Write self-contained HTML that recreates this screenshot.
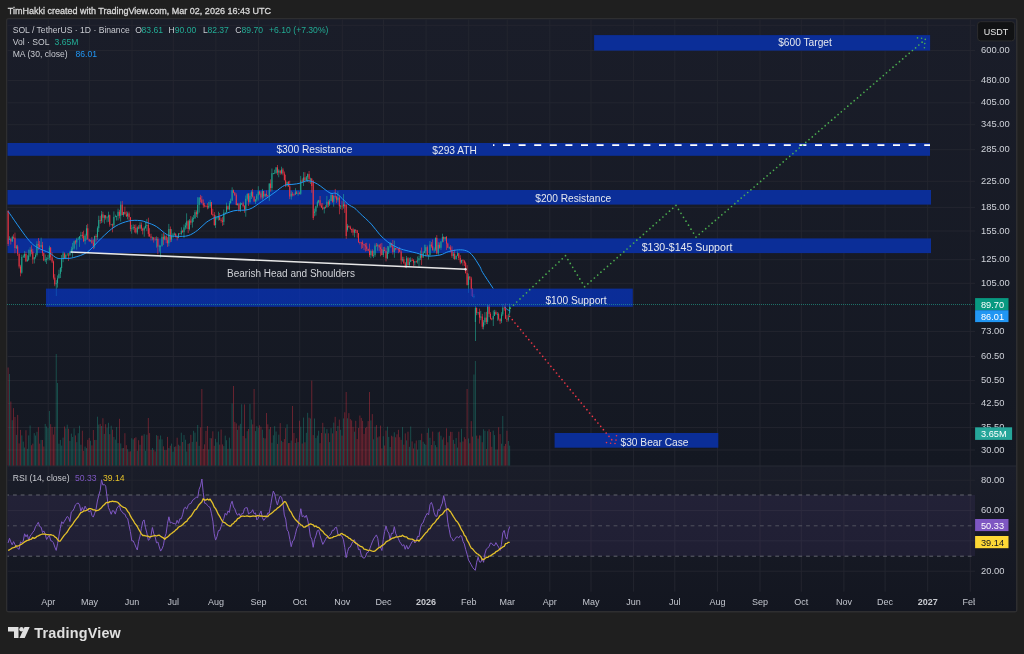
<!DOCTYPE html>
<html><head><meta charset="utf-8"><style>
html,body{margin:0;padding:0;width:1024px;height:654px;overflow:hidden;background:#1f1f1f;}
svg{position:absolute;left:0;top:0;display:block}
text{font-family:"Liberation Sans",sans-serif;}
svg{-webkit-font-smoothing:antialiased;will-change:transform;}
</style></head><body>
<svg width="1024" height="654" viewBox="0 0 1024 654">
<rect x="0" y="0" width="1024" height="654" fill="#1f1f1f"/>
<text x="7.8" y="13.8" font-size="9" fill="#d8d8d8" stroke="#d8d8d8" stroke-width="0.3">TimHakki created with TradingView.com, Mar 02, 2026 16:43 UTC</text>
<defs><linearGradient id="g1" x1="0" y1="0" x2="0" y2="1"><stop offset="0" stop-color="#1a1d29"/><stop offset="1" stop-color="#141822"/></linearGradient>
<linearGradient id="g2" x1="0" y1="0" x2="0" y2="1"><stop offset="0" stop-color="#1a1d29"/><stop offset="1" stop-color="#131620"/></linearGradient></defs>
<rect x="6.75" y="18.75" width="1010" height="593" rx="2" fill="#171b26" stroke="#2e2e30" stroke-width="1.5"/>
<rect x="7.5" y="19.5" width="1008.5" height="446.5" fill="url(#g1)"/>
<rect x="7.5" y="466" width="1008.5" height="145" fill="url(#g2)"/>
<g stroke="#23252f" stroke-width="1"><line x1="48.2" y1="19.5" x2="48.2" y2="591.7" /><line x1="89.4" y1="19.5" x2="89.4" y2="591.7" /><line x1="132.0" y1="19.5" x2="132.0" y2="591.7" /><line x1="173.3" y1="19.5" x2="173.3" y2="591.7" /><line x1="215.9" y1="19.5" x2="215.9" y2="591.7" /><line x1="258.5" y1="19.5" x2="258.5" y2="591.7" /><line x1="299.7" y1="19.5" x2="299.7" y2="591.7" /><line x1="342.3" y1="19.5" x2="342.3" y2="591.7" /><line x1="383.5" y1="19.5" x2="383.5" y2="591.7" /><line x1="426.1" y1="19.5" x2="426.1" y2="591.7" /><line x1="468.7" y1="19.5" x2="468.7" y2="591.7" /><line x1="507.2" y1="19.5" x2="507.2" y2="591.7" /><line x1="549.8" y1="19.5" x2="549.8" y2="591.7" /><line x1="591.0" y1="19.5" x2="591.0" y2="591.7" /><line x1="633.6" y1="19.5" x2="633.6" y2="591.7" /><line x1="674.8" y1="19.5" x2="674.8" y2="591.7" /><line x1="717.4" y1="19.5" x2="717.4" y2="591.7" /><line x1="760.0" y1="19.5" x2="760.0" y2="591.7" /><line x1="801.3" y1="19.5" x2="801.3" y2="591.7" /><line x1="843.9" y1="19.5" x2="843.9" y2="591.7" /><line x1="885.1" y1="19.5" x2="885.1" y2="591.7" /><line x1="927.7" y1="19.5" x2="927.7" y2="591.7" /><line x1="970.3" y1="19.5" x2="970.3" y2="591.7" /><line x1="7.5" y1="25.3" x2="975" y2="25.3" /><line x1="7.5" y1="50.5" x2="975" y2="50.5" /><line x1="7.5" y1="80.5" x2="975" y2="80.5" /><line x1="7.5" y1="102.8" x2="975" y2="102.8" /><line x1="7.5" y1="124.7" x2="975" y2="124.7" /><line x1="7.5" y1="149.7" x2="975" y2="149.7" /><line x1="7.5" y1="181.3" x2="975" y2="181.3" /><line x1="7.5" y1="207.4" x2="975" y2="207.4" /><line x1="7.5" y1="231.0" x2="975" y2="231.0" /><line x1="7.5" y1="259.7" x2="975" y2="259.7" /><line x1="7.5" y1="283.3" x2="975" y2="283.3" /><line x1="7.5" y1="331.4" x2="975" y2="331.4" /><line x1="7.5" y1="356.5" x2="975" y2="356.5" /><line x1="7.5" y1="380.6" x2="975" y2="380.6" /><line x1="7.5" y1="403.6" x2="975" y2="403.6" /><line x1="7.5" y1="427.6" x2="975" y2="427.6" /><line x1="7.5" y1="450" x2="975" y2="450" /><line x1="7.5" y1="480.2" x2="975" y2="480.2" /><line x1="7.5" y1="510.5" x2="975" y2="510.5" /><line x1="7.5" y1="540.8" x2="975" y2="540.8" /><line x1="7.5" y1="571.2" x2="975" y2="571.2" /></g>
<line x1="7.5" y1="466" x2="1016" y2="466" stroke="#262a35"/>
<!-- RSI band -->
<rect x="7.5" y="495" width="967.5" height="61" fill="rgba(126,87,194,0.10)"/>
<g stroke-width="1" stroke-dasharray="3.8 3.9" stroke-dashoffset="2.2">
<line x1="7.5" y1="495" x2="975" y2="495" stroke="#62646e"/><line x1="7.5" y1="525.8" x2="975" y2="525.8" stroke="#51525e"/><line x1="7.5" y1="556.2" x2="975" y2="556.2" stroke="#62646e"/>
</g>
<!-- rectangles under candles -->
<rect x="7.5" y="143" width="922.5" height="12.8" fill="#0b2e98"/>
<rect x="7.5" y="190" width="923.5" height="14.6" fill="#0b2e98"/>
<rect x="7.5" y="238.4" width="923.5" height="14.7" fill="#0b2e98"/>
<rect x="594.1" y="35.1" width="336" height="15.5" fill="#0b2e98"/>
<rect x="554.6" y="433" width="163.7" height="14.7" fill="#0b2e98"/>
<!-- volume -->
<g><rect x="7.68" y="367.5" width="0.84" height="98.0" fill="rgba(242,54,69,0.45)"/><rect x="9.05" y="374.0" width="0.84" height="91.5" fill="rgba(34,171,148,0.42)"/><rect x="10.43" y="401.5" width="0.84" height="64.0" fill="rgba(242,54,69,0.45)"/><rect x="11.80" y="420.2" width="0.84" height="45.3" fill="rgba(34,171,148,0.42)"/><rect x="13.18" y="408.1" width="0.84" height="57.4" fill="rgba(242,54,69,0.45)"/><rect x="14.55" y="417.0" width="0.84" height="48.5" fill="rgba(242,54,69,0.45)"/><rect x="15.93" y="434.9" width="0.84" height="30.6" fill="rgba(34,171,148,0.42)"/><rect x="17.30" y="414.9" width="0.84" height="50.6" fill="rgba(242,54,69,0.45)"/><rect x="18.67" y="443.4" width="0.84" height="22.1" fill="rgba(242,54,69,0.45)"/><rect x="20.05" y="429.9" width="0.84" height="35.6" fill="rgba(242,54,69,0.45)"/><rect x="21.42" y="435.4" width="0.84" height="30.1" fill="rgba(34,171,148,0.42)"/><rect x="22.80" y="441.6" width="0.84" height="23.9" fill="rgba(34,171,148,0.42)"/><rect x="24.17" y="447.5" width="0.84" height="18.0" fill="rgba(34,171,148,0.42)"/><rect x="25.54" y="430.2" width="0.84" height="35.3" fill="rgba(242,54,69,0.45)"/><rect x="26.92" y="448.8" width="0.84" height="16.7" fill="rgba(34,171,148,0.42)"/><rect x="28.29" y="435.4" width="0.84" height="30.1" fill="rgba(34,171,148,0.42)"/><rect x="29.67" y="425.5" width="0.84" height="40.0" fill="rgba(34,171,148,0.42)"/><rect x="31.04" y="445.2" width="0.84" height="20.3" fill="rgba(242,54,69,0.45)"/><rect x="32.42" y="443.6" width="0.84" height="21.9" fill="rgba(242,54,69,0.45)"/><rect x="33.79" y="433.1" width="0.84" height="32.4" fill="rgba(34,171,148,0.42)"/><rect x="35.16" y="435.5" width="0.84" height="30.0" fill="rgba(34,171,148,0.42)"/><rect x="36.54" y="431.8" width="0.84" height="33.7" fill="rgba(34,171,148,0.42)"/><rect x="37.91" y="427.2" width="0.84" height="38.3" fill="rgba(242,54,69,0.45)"/><rect x="39.29" y="443.6" width="0.84" height="21.9" fill="rgba(242,54,69,0.45)"/><rect x="40.66" y="439.9" width="0.84" height="25.6" fill="rgba(34,171,148,0.42)"/><rect x="42.04" y="440.0" width="0.84" height="25.5" fill="rgba(242,54,69,0.45)"/><rect x="43.41" y="446.5" width="0.84" height="19.0" fill="rgba(242,54,69,0.45)"/><rect x="44.78" y="423.9" width="0.84" height="41.6" fill="rgba(34,171,148,0.42)"/><rect x="46.16" y="426.5" width="0.84" height="39.0" fill="rgba(34,171,148,0.42)"/><rect x="47.53" y="428.1" width="0.84" height="37.4" fill="rgba(34,171,148,0.42)"/><rect x="48.91" y="411.0" width="0.84" height="54.5" fill="rgba(34,171,148,0.42)"/><rect x="50.28" y="424.2" width="0.84" height="41.3" fill="rgba(242,54,69,0.45)"/><rect x="51.65" y="427.0" width="0.84" height="38.5" fill="rgba(242,54,69,0.45)"/><rect x="53.03" y="434.6" width="0.84" height="30.9" fill="rgba(242,54,69,0.45)"/><rect x="54.40" y="426.8" width="0.84" height="38.7" fill="rgba(242,54,69,0.45)"/><rect x="55.78" y="354.0" width="0.84" height="111.5" fill="rgba(34,171,148,0.42)"/><rect x="57.15" y="383.0" width="0.84" height="82.5" fill="rgba(34,171,148,0.42)"/><rect x="58.53" y="443.7" width="0.84" height="21.8" fill="rgba(34,171,148,0.42)"/><rect x="59.90" y="439.9" width="0.84" height="25.6" fill="rgba(34,171,148,0.42)"/><rect x="61.27" y="445.6" width="0.84" height="19.9" fill="rgba(34,171,148,0.42)"/><rect x="62.65" y="437.6" width="0.84" height="27.9" fill="rgba(34,171,148,0.42)"/><rect x="64.02" y="426.5" width="0.84" height="39.0" fill="rgba(242,54,69,0.45)"/><rect x="65.40" y="428.4" width="0.84" height="37.1" fill="rgba(34,171,148,0.42)"/><rect x="66.77" y="424.7" width="0.84" height="40.8" fill="rgba(34,171,148,0.42)"/><rect x="68.14" y="428.7" width="0.84" height="36.8" fill="rgba(242,54,69,0.45)"/><rect x="69.52" y="440.9" width="0.84" height="24.6" fill="rgba(34,171,148,0.42)"/><rect x="70.89" y="433.6" width="0.84" height="31.9" fill="rgba(34,171,148,0.42)"/><rect x="72.27" y="437.0" width="0.84" height="28.5" fill="rgba(34,171,148,0.42)"/><rect x="73.64" y="428.3" width="0.84" height="37.2" fill="rgba(34,171,148,0.42)"/><rect x="75.02" y="435.4" width="0.84" height="30.1" fill="rgba(242,54,69,0.45)"/><rect x="76.39" y="442.2" width="0.84" height="23.3" fill="rgba(34,171,148,0.42)"/><rect x="77.76" y="433.2" width="0.84" height="32.3" fill="rgba(34,171,148,0.42)"/><rect x="79.14" y="425.7" width="0.84" height="39.8" fill="rgba(34,171,148,0.42)"/><rect x="80.51" y="444.7" width="0.84" height="20.8" fill="rgba(34,171,148,0.42)"/><rect x="81.89" y="430.7" width="0.84" height="34.8" fill="rgba(242,54,69,0.45)"/><rect x="83.26" y="450.9" width="0.84" height="14.6" fill="rgba(242,54,69,0.45)"/><rect x="84.64" y="446.6" width="0.84" height="18.9" fill="rgba(34,171,148,0.42)"/><rect x="86.01" y="448.1" width="0.84" height="17.4" fill="rgba(34,171,148,0.42)"/><rect x="87.38" y="439.8" width="0.84" height="25.7" fill="rgba(242,54,69,0.45)"/><rect x="88.76" y="437.9" width="0.84" height="27.6" fill="rgba(242,54,69,0.45)"/><rect x="90.13" y="440.7" width="0.84" height="24.8" fill="rgba(34,171,148,0.42)"/><rect x="91.51" y="445.4" width="0.84" height="20.1" fill="rgba(242,54,69,0.45)"/><rect x="92.88" y="430.0" width="0.84" height="35.5" fill="rgba(242,54,69,0.45)"/><rect x="94.25" y="440.0" width="0.84" height="25.5" fill="rgba(34,171,148,0.42)"/><rect x="95.63" y="439.9" width="0.84" height="25.6" fill="rgba(242,54,69,0.45)"/><rect x="97.00" y="416.7" width="0.84" height="48.8" fill="rgba(34,171,148,0.42)"/><rect x="98.38" y="424.6" width="0.84" height="40.9" fill="rgba(34,171,148,0.42)"/><rect x="99.75" y="423.9" width="0.84" height="41.6" fill="rgba(242,54,69,0.45)"/><rect x="101.13" y="426.0" width="0.84" height="39.5" fill="rgba(34,171,148,0.42)"/><rect x="102.50" y="418.2" width="0.84" height="47.3" fill="rgba(242,54,69,0.45)"/><rect x="103.87" y="433.9" width="0.84" height="31.6" fill="rgba(34,171,148,0.42)"/><rect x="105.25" y="424.2" width="0.84" height="41.3" fill="rgba(242,54,69,0.45)"/><rect x="106.62" y="427.7" width="0.84" height="37.8" fill="rgba(34,171,148,0.42)"/><rect x="108.00" y="422.8" width="0.84" height="42.7" fill="rgba(34,171,148,0.42)"/><rect x="109.37" y="434.2" width="0.84" height="31.3" fill="rgba(242,54,69,0.45)"/><rect x="110.75" y="425.7" width="0.84" height="39.8" fill="rgba(34,171,148,0.42)"/><rect x="112.12" y="429.7" width="0.84" height="35.8" fill="rgba(242,54,69,0.45)"/><rect x="113.49" y="437.0" width="0.84" height="28.5" fill="rgba(34,171,148,0.42)"/><rect x="114.87" y="439.6" width="0.84" height="25.9" fill="rgba(34,171,148,0.42)"/><rect x="116.24" y="427.1" width="0.84" height="38.4" fill="rgba(34,171,148,0.42)"/><rect x="117.62" y="443.1" width="0.84" height="22.4" fill="rgba(34,171,148,0.42)"/><rect x="118.99" y="418.8" width="0.84" height="46.7" fill="rgba(242,54,69,0.45)"/><rect x="120.36" y="443.4" width="0.84" height="22.1" fill="rgba(34,171,148,0.42)"/><rect x="121.74" y="448.2" width="0.84" height="17.3" fill="rgba(242,54,69,0.45)"/><rect x="123.11" y="448.0" width="0.84" height="17.5" fill="rgba(34,171,148,0.42)"/><rect x="124.49" y="433.2" width="0.84" height="32.3" fill="rgba(242,54,69,0.45)"/><rect x="125.86" y="445.2" width="0.84" height="20.3" fill="rgba(242,54,69,0.45)"/><rect x="127.24" y="449.2" width="0.84" height="16.3" fill="rgba(34,171,148,0.42)"/><rect x="128.61" y="451.5" width="0.84" height="14.0" fill="rgba(242,54,69,0.45)"/><rect x="129.98" y="451.3" width="0.84" height="14.2" fill="rgba(242,54,69,0.45)"/><rect x="131.36" y="438.2" width="0.84" height="27.3" fill="rgba(34,171,148,0.42)"/><rect x="132.73" y="439.4" width="0.84" height="26.1" fill="rgba(34,171,148,0.42)"/><rect x="134.11" y="438.1" width="0.84" height="27.4" fill="rgba(242,54,69,0.45)"/><rect x="135.48" y="437.3" width="0.84" height="28.2" fill="rgba(242,54,69,0.45)"/><rect x="136.85" y="450.8" width="0.84" height="14.7" fill="rgba(34,171,148,0.42)"/><rect x="138.23" y="440.2" width="0.84" height="25.3" fill="rgba(242,54,69,0.45)"/><rect x="139.60" y="444.8" width="0.84" height="20.7" fill="rgba(34,171,148,0.42)"/><rect x="140.98" y="435.7" width="0.84" height="29.8" fill="rgba(242,54,69,0.45)"/><rect x="142.35" y="435.6" width="0.84" height="29.9" fill="rgba(242,54,69,0.45)"/><rect x="143.73" y="434.2" width="0.84" height="31.3" fill="rgba(34,171,148,0.42)"/><rect x="145.10" y="450.8" width="0.84" height="14.7" fill="rgba(34,171,148,0.42)"/><rect x="146.47" y="434.7" width="0.84" height="30.8" fill="rgba(34,171,148,0.42)"/><rect x="147.85" y="418.0" width="0.84" height="47.5" fill="rgba(242,54,69,0.45)"/><rect x="149.22" y="433.1" width="0.84" height="32.4" fill="rgba(242,54,69,0.45)"/><rect x="150.60" y="449.9" width="0.84" height="15.6" fill="rgba(242,54,69,0.45)"/><rect x="151.97" y="448.0" width="0.84" height="17.5" fill="rgba(34,171,148,0.42)"/><rect x="153.35" y="449.8" width="0.84" height="15.7" fill="rgba(242,54,69,0.45)"/><rect x="154.72" y="451.4" width="0.84" height="14.1" fill="rgba(242,54,69,0.45)"/><rect x="156.09" y="435.1" width="0.84" height="30.4" fill="rgba(34,171,148,0.42)"/><rect x="157.47" y="435.8" width="0.84" height="29.7" fill="rgba(242,54,69,0.45)"/><rect x="158.84" y="439.4" width="0.84" height="26.1" fill="rgba(34,171,148,0.42)"/><rect x="160.22" y="435.5" width="0.84" height="30.0" fill="rgba(34,171,148,0.42)"/><rect x="161.59" y="439.4" width="0.84" height="26.1" fill="rgba(34,171,148,0.42)"/><rect x="162.96" y="446.3" width="0.84" height="19.2" fill="rgba(242,54,69,0.45)"/><rect x="164.34" y="450.1" width="0.84" height="15.4" fill="rgba(34,171,148,0.42)"/><rect x="165.71" y="450.1" width="0.84" height="15.4" fill="rgba(242,54,69,0.45)"/><rect x="167.09" y="436.9" width="0.84" height="28.6" fill="rgba(242,54,69,0.45)"/><rect x="168.46" y="448.0" width="0.84" height="17.5" fill="rgba(34,171,148,0.42)"/><rect x="169.84" y="445.7" width="0.84" height="19.8" fill="rgba(242,54,69,0.45)"/><rect x="171.21" y="443.6" width="0.84" height="21.9" fill="rgba(34,171,148,0.42)"/><rect x="172.58" y="451.7" width="0.84" height="13.8" fill="rgba(34,171,148,0.42)"/><rect x="173.96" y="446.9" width="0.84" height="18.6" fill="rgba(34,171,148,0.42)"/><rect x="175.33" y="446.4" width="0.84" height="19.1" fill="rgba(242,54,69,0.45)"/><rect x="176.71" y="437.7" width="0.84" height="27.8" fill="rgba(242,54,69,0.45)"/><rect x="178.08" y="444.7" width="0.84" height="20.8" fill="rgba(34,171,148,0.42)"/><rect x="179.46" y="445.7" width="0.84" height="19.8" fill="rgba(242,54,69,0.45)"/><rect x="180.83" y="432.7" width="0.84" height="32.8" fill="rgba(34,171,148,0.42)"/><rect x="182.20" y="442.0" width="0.84" height="23.5" fill="rgba(242,54,69,0.45)"/><rect x="183.58" y="435.0" width="0.84" height="30.5" fill="rgba(34,171,148,0.42)"/><rect x="184.95" y="439.7" width="0.84" height="25.8" fill="rgba(34,171,148,0.42)"/><rect x="186.33" y="451.5" width="0.84" height="14.0" fill="rgba(34,171,148,0.42)"/><rect x="187.70" y="443.8" width="0.84" height="21.7" fill="rgba(242,54,69,0.45)"/><rect x="189.07" y="443.3" width="0.84" height="22.2" fill="rgba(34,171,148,0.42)"/><rect x="190.45" y="434.8" width="0.84" height="30.7" fill="rgba(242,54,69,0.45)"/><rect x="191.82" y="441.9" width="0.84" height="23.6" fill="rgba(34,171,148,0.42)"/><rect x="193.20" y="430.8" width="0.84" height="34.7" fill="rgba(34,171,148,0.42)"/><rect x="194.57" y="432.6" width="0.84" height="32.9" fill="rgba(34,171,148,0.42)"/><rect x="195.95" y="441.7" width="0.84" height="23.8" fill="rgba(242,54,69,0.45)"/><rect x="197.32" y="425.0" width="0.84" height="40.5" fill="rgba(34,171,148,0.42)"/><rect x="198.69" y="445.8" width="0.84" height="19.7" fill="rgba(34,171,148,0.42)"/><rect x="200.07" y="427.4" width="0.84" height="38.1" fill="rgba(242,54,69,0.45)"/><rect x="201.44" y="389.0" width="0.84" height="76.5" fill="rgba(242,54,69,0.45)"/><rect x="202.82" y="448.9" width="0.84" height="16.6" fill="rgba(242,54,69,0.45)"/><rect x="204.19" y="444.3" width="0.84" height="21.2" fill="rgba(242,54,69,0.45)"/><rect x="205.56" y="430.9" width="0.84" height="34.6" fill="rgba(242,54,69,0.45)"/><rect x="206.94" y="426.0" width="0.84" height="39.5" fill="rgba(242,54,69,0.45)"/><rect x="208.31" y="449.5" width="0.84" height="16.0" fill="rgba(34,171,148,0.42)"/><rect x="209.69" y="438.1" width="0.84" height="27.4" fill="rgba(34,171,148,0.42)"/><rect x="211.06" y="438.3" width="0.84" height="27.2" fill="rgba(242,54,69,0.45)"/><rect x="212.44" y="431.3" width="0.84" height="34.2" fill="rgba(242,54,69,0.45)"/><rect x="213.81" y="445.8" width="0.84" height="19.7" fill="rgba(242,54,69,0.45)"/><rect x="215.18" y="438.8" width="0.84" height="26.7" fill="rgba(34,171,148,0.42)"/><rect x="216.56" y="442.3" width="0.84" height="23.2" fill="rgba(34,171,148,0.42)"/><rect x="217.93" y="431.5" width="0.84" height="34.0" fill="rgba(34,171,148,0.42)"/><rect x="219.31" y="444.6" width="0.84" height="20.9" fill="rgba(242,54,69,0.45)"/><rect x="220.68" y="429.5" width="0.84" height="36.0" fill="rgba(242,54,69,0.45)"/><rect x="222.06" y="444.4" width="0.84" height="21.1" fill="rgba(242,54,69,0.45)"/><rect x="223.43" y="446.1" width="0.84" height="19.4" fill="rgba(34,171,148,0.42)"/><rect x="224.80" y="435.6" width="0.84" height="29.9" fill="rgba(34,171,148,0.42)"/><rect x="226.18" y="440.2" width="0.84" height="25.3" fill="rgba(34,171,148,0.42)"/><rect x="227.55" y="448.8" width="0.84" height="16.7" fill="rgba(242,54,69,0.45)"/><rect x="228.93" y="437.6" width="0.84" height="27.9" fill="rgba(34,171,148,0.42)"/><rect x="230.30" y="448.6" width="0.84" height="16.9" fill="rgba(34,171,148,0.42)"/><rect x="231.67" y="403.5" width="0.84" height="62.0" fill="rgba(34,171,148,0.42)"/><rect x="233.05" y="386.0" width="0.84" height="79.5" fill="rgba(242,54,69,0.45)"/><rect x="234.42" y="421.9" width="0.84" height="43.6" fill="rgba(242,54,69,0.45)"/><rect x="235.80" y="423.4" width="0.84" height="42.1" fill="rgba(242,54,69,0.45)"/><rect x="237.17" y="429.8" width="0.84" height="35.7" fill="rgba(34,171,148,0.42)"/><rect x="238.55" y="425.5" width="0.84" height="40.0" fill="rgba(242,54,69,0.45)"/><rect x="239.92" y="423.8" width="0.84" height="41.7" fill="rgba(34,171,148,0.42)"/><rect x="241.29" y="404.3" width="0.84" height="61.2" fill="rgba(34,171,148,0.42)"/><rect x="242.67" y="435.9" width="0.84" height="29.6" fill="rgba(242,54,69,0.45)"/><rect x="244.04" y="404.4" width="0.84" height="61.1" fill="rgba(242,54,69,0.45)"/><rect x="245.42" y="438.3" width="0.84" height="27.2" fill="rgba(34,171,148,0.42)"/><rect x="246.79" y="431.2" width="0.84" height="34.3" fill="rgba(34,171,148,0.42)"/><rect x="248.17" y="429.0" width="0.84" height="36.5" fill="rgba(242,54,69,0.45)"/><rect x="249.54" y="403.9" width="0.84" height="61.6" fill="rgba(34,171,148,0.42)"/><rect x="250.91" y="419.6" width="0.84" height="45.9" fill="rgba(34,171,148,0.42)"/><rect x="252.29" y="424.4" width="0.84" height="41.1" fill="rgba(242,54,69,0.45)"/><rect x="253.66" y="389.0" width="0.84" height="76.5" fill="rgba(242,54,69,0.45)"/><rect x="255.04" y="431.1" width="0.84" height="34.4" fill="rgba(34,171,148,0.42)"/><rect x="256.41" y="426.1" width="0.84" height="39.4" fill="rgba(34,171,148,0.42)"/><rect x="257.78" y="427.6" width="0.84" height="37.9" fill="rgba(34,171,148,0.42)"/><rect x="259.16" y="425.3" width="0.84" height="40.2" fill="rgba(242,54,69,0.45)"/><rect x="260.53" y="426.7" width="0.84" height="38.8" fill="rgba(242,54,69,0.45)"/><rect x="261.91" y="429.7" width="0.84" height="35.8" fill="rgba(34,171,148,0.42)"/><rect x="263.28" y="437.8" width="0.84" height="27.7" fill="rgba(242,54,69,0.45)"/><rect x="264.66" y="438.4" width="0.84" height="27.1" fill="rgba(34,171,148,0.42)"/><rect x="266.03" y="413.0" width="0.84" height="52.5" fill="rgba(242,54,69,0.45)"/><rect x="267.40" y="424.3" width="0.84" height="41.2" fill="rgba(242,54,69,0.45)"/><rect x="268.78" y="429.2" width="0.84" height="36.3" fill="rgba(34,171,148,0.42)"/><rect x="270.15" y="427.0" width="0.84" height="38.5" fill="rgba(242,54,69,0.45)"/><rect x="271.53" y="442.7" width="0.84" height="22.8" fill="rgba(34,171,148,0.42)"/><rect x="272.90" y="435.3" width="0.84" height="30.2" fill="rgba(34,171,148,0.42)"/><rect x="274.27" y="426.2" width="0.84" height="39.3" fill="rgba(34,171,148,0.42)"/><rect x="275.65" y="431.5" width="0.84" height="34.0" fill="rgba(34,171,148,0.42)"/><rect x="277.02" y="443.9" width="0.84" height="21.6" fill="rgba(242,54,69,0.45)"/><rect x="278.40" y="434.7" width="0.84" height="30.8" fill="rgba(34,171,148,0.42)"/><rect x="279.77" y="423.1" width="0.84" height="42.4" fill="rgba(242,54,69,0.45)"/><rect x="281.15" y="440.8" width="0.84" height="24.7" fill="rgba(34,171,148,0.42)"/><rect x="282.52" y="442.1" width="0.84" height="23.4" fill="rgba(242,54,69,0.45)"/><rect x="283.89" y="439.1" width="0.84" height="26.4" fill="rgba(242,54,69,0.45)"/><rect x="285.27" y="428.1" width="0.84" height="37.4" fill="rgba(242,54,69,0.45)"/><rect x="286.64" y="424.3" width="0.84" height="41.2" fill="rgba(34,171,148,0.42)"/><rect x="288.02" y="443.1" width="0.84" height="22.4" fill="rgba(242,54,69,0.45)"/><rect x="289.39" y="443.0" width="0.84" height="22.5" fill="rgba(242,54,69,0.45)"/><rect x="290.77" y="440.5" width="0.84" height="25.0" fill="rgba(34,171,148,0.42)"/><rect x="292.14" y="406.0" width="0.84" height="59.5" fill="rgba(242,54,69,0.45)"/><rect x="293.51" y="433.0" width="0.84" height="32.5" fill="rgba(242,54,69,0.45)"/><rect x="294.89" y="442.9" width="0.84" height="22.6" fill="rgba(34,171,148,0.42)"/><rect x="296.26" y="438.3" width="0.84" height="27.2" fill="rgba(242,54,69,0.45)"/><rect x="297.64" y="442.1" width="0.84" height="23.4" fill="rgba(34,171,148,0.42)"/><rect x="299.01" y="420.7" width="0.84" height="44.8" fill="rgba(242,54,69,0.45)"/><rect x="300.38" y="426.7" width="0.84" height="38.8" fill="rgba(34,171,148,0.42)"/><rect x="301.76" y="443.5" width="0.84" height="22.0" fill="rgba(242,54,69,0.45)"/><rect x="303.13" y="417.6" width="0.84" height="47.9" fill="rgba(34,171,148,0.42)"/><rect x="304.51" y="442.3" width="0.84" height="23.2" fill="rgba(242,54,69,0.45)"/><rect x="305.88" y="432.8" width="0.84" height="32.7" fill="rgba(34,171,148,0.42)"/><rect x="307.26" y="412.8" width="0.84" height="52.7" fill="rgba(34,171,148,0.42)"/><rect x="308.63" y="417.7" width="0.84" height="47.8" fill="rgba(242,54,69,0.45)"/><rect x="310.00" y="418.5" width="0.84" height="47.0" fill="rgba(34,171,148,0.42)"/><rect x="311.38" y="380.6" width="0.84" height="84.9" fill="rgba(242,54,69,0.45)"/><rect x="312.75" y="435.1" width="0.84" height="30.4" fill="rgba(242,54,69,0.45)"/><rect x="314.13" y="418.5" width="0.84" height="47.0" fill="rgba(34,171,148,0.42)"/><rect x="315.50" y="438.1" width="0.84" height="27.4" fill="rgba(34,171,148,0.42)"/><rect x="316.88" y="435.6" width="0.84" height="29.9" fill="rgba(34,171,148,0.42)"/><rect x="318.25" y="430.7" width="0.84" height="34.8" fill="rgba(34,171,148,0.42)"/><rect x="319.62" y="443.2" width="0.84" height="22.3" fill="rgba(242,54,69,0.45)"/><rect x="321.00" y="433.0" width="0.84" height="32.5" fill="rgba(242,54,69,0.45)"/><rect x="322.37" y="422.8" width="0.84" height="42.7" fill="rgba(242,54,69,0.45)"/><rect x="323.75" y="427.3" width="0.84" height="38.2" fill="rgba(34,171,148,0.42)"/><rect x="325.12" y="433.4" width="0.84" height="32.1" fill="rgba(242,54,69,0.45)"/><rect x="326.49" y="429.1" width="0.84" height="36.4" fill="rgba(34,171,148,0.42)"/><rect x="327.87" y="433.3" width="0.84" height="32.2" fill="rgba(242,54,69,0.45)"/><rect x="329.24" y="442.1" width="0.84" height="23.4" fill="rgba(34,171,148,0.42)"/><rect x="330.62" y="428.1" width="0.84" height="37.4" fill="rgba(34,171,148,0.42)"/><rect x="331.99" y="433.4" width="0.84" height="32.1" fill="rgba(242,54,69,0.45)"/><rect x="333.37" y="422.6" width="0.84" height="42.9" fill="rgba(34,171,148,0.42)"/><rect x="334.74" y="416.8" width="0.84" height="48.7" fill="rgba(242,54,69,0.45)"/><rect x="336.11" y="431.0" width="0.84" height="34.5" fill="rgba(242,54,69,0.45)"/><rect x="337.49" y="425.9" width="0.84" height="39.6" fill="rgba(34,171,148,0.42)"/><rect x="338.86" y="419.6" width="0.84" height="45.9" fill="rgba(242,54,69,0.45)"/><rect x="340.24" y="429.7" width="0.84" height="35.8" fill="rgba(34,171,148,0.42)"/><rect x="341.61" y="435.6" width="0.84" height="29.9" fill="rgba(242,54,69,0.45)"/><rect x="342.98" y="418.4" width="0.84" height="47.1" fill="rgba(34,171,148,0.42)"/><rect x="344.36" y="412.3" width="0.84" height="53.2" fill="rgba(242,54,69,0.45)"/><rect x="345.73" y="392.0" width="0.84" height="73.5" fill="rgba(242,54,69,0.45)"/><rect x="347.11" y="418.3" width="0.84" height="47.2" fill="rgba(34,171,148,0.42)"/><rect x="348.48" y="413.1" width="0.84" height="52.4" fill="rgba(242,54,69,0.45)"/><rect x="349.86" y="419.1" width="0.84" height="46.4" fill="rgba(242,54,69,0.45)"/><rect x="351.23" y="420.4" width="0.84" height="45.1" fill="rgba(242,54,69,0.45)"/><rect x="352.60" y="426.8" width="0.84" height="38.7" fill="rgba(242,54,69,0.45)"/><rect x="353.98" y="431.7" width="0.84" height="33.8" fill="rgba(34,171,148,0.42)"/><rect x="355.35" y="420.8" width="0.84" height="44.7" fill="rgba(242,54,69,0.45)"/><rect x="356.73" y="439.1" width="0.84" height="26.4" fill="rgba(242,54,69,0.45)"/><rect x="358.10" y="428.0" width="0.84" height="37.5" fill="rgba(242,54,69,0.45)"/><rect x="359.48" y="415.5" width="0.84" height="50.0" fill="rgba(242,54,69,0.45)"/><rect x="360.85" y="417.9" width="0.84" height="47.6" fill="rgba(242,54,69,0.45)"/><rect x="362.22" y="420.8" width="0.84" height="44.7" fill="rgba(242,54,69,0.45)"/><rect x="363.60" y="433.9" width="0.84" height="31.6" fill="rgba(242,54,69,0.45)"/><rect x="364.97" y="427.9" width="0.84" height="37.6" fill="rgba(242,54,69,0.45)"/><rect x="366.35" y="426.8" width="0.84" height="38.7" fill="rgba(242,54,69,0.45)"/><rect x="367.72" y="421.1" width="0.84" height="44.4" fill="rgba(242,54,69,0.45)"/><rect x="369.09" y="392.0" width="0.84" height="73.5" fill="rgba(242,54,69,0.45)"/><rect x="370.47" y="420.4" width="0.84" height="45.1" fill="rgba(34,171,148,0.42)"/><rect x="371.84" y="414.1" width="0.84" height="51.4" fill="rgba(242,54,69,0.45)"/><rect x="373.22" y="439.3" width="0.84" height="26.2" fill="rgba(34,171,148,0.42)"/><rect x="374.59" y="426.7" width="0.84" height="38.8" fill="rgba(34,171,148,0.42)"/><rect x="375.97" y="425.1" width="0.84" height="40.4" fill="rgba(242,54,69,0.45)"/><rect x="377.34" y="437.4" width="0.84" height="28.1" fill="rgba(34,171,148,0.42)"/><rect x="378.71" y="436.4" width="0.84" height="29.1" fill="rgba(242,54,69,0.45)"/><rect x="380.09" y="425.6" width="0.84" height="39.9" fill="rgba(242,54,69,0.45)"/><rect x="381.46" y="448.4" width="0.84" height="17.1" fill="rgba(242,54,69,0.45)"/><rect x="382.84" y="436.2" width="0.84" height="29.3" fill="rgba(34,171,148,0.42)"/><rect x="384.21" y="445.5" width="0.84" height="20.0" fill="rgba(242,54,69,0.45)"/><rect x="385.59" y="430.5" width="0.84" height="35.0" fill="rgba(242,54,69,0.45)"/><rect x="386.96" y="426.7" width="0.84" height="38.8" fill="rgba(34,171,148,0.42)"/><rect x="388.33" y="436.9" width="0.84" height="28.6" fill="rgba(34,171,148,0.42)"/><rect x="389.71" y="447.0" width="0.84" height="18.5" fill="rgba(34,171,148,0.42)"/><rect x="391.08" y="435.7" width="0.84" height="29.8" fill="rgba(242,54,69,0.45)"/><rect x="392.46" y="436.5" width="0.84" height="29.0" fill="rgba(242,54,69,0.45)"/><rect x="393.83" y="432.3" width="0.84" height="33.2" fill="rgba(34,171,148,0.42)"/><rect x="395.20" y="437.3" width="0.84" height="28.2" fill="rgba(242,54,69,0.45)"/><rect x="396.58" y="434.3" width="0.84" height="31.2" fill="rgba(242,54,69,0.45)"/><rect x="397.95" y="429.8" width="0.84" height="35.7" fill="rgba(242,54,69,0.45)"/><rect x="399.33" y="437.2" width="0.84" height="28.3" fill="rgba(242,54,69,0.45)"/><rect x="400.70" y="439.8" width="0.84" height="25.7" fill="rgba(242,54,69,0.45)"/><rect x="402.08" y="427.1" width="0.84" height="38.4" fill="rgba(34,171,148,0.42)"/><rect x="403.45" y="444.7" width="0.84" height="20.8" fill="rgba(242,54,69,0.45)"/><rect x="404.82" y="433.4" width="0.84" height="32.1" fill="rgba(242,54,69,0.45)"/><rect x="406.20" y="440.4" width="0.84" height="25.1" fill="rgba(34,171,148,0.42)"/><rect x="407.57" y="431.7" width="0.84" height="33.8" fill="rgba(242,54,69,0.45)"/><rect x="408.95" y="446.8" width="0.84" height="18.7" fill="rgba(34,171,148,0.42)"/><rect x="410.32" y="426.5" width="0.84" height="39.0" fill="rgba(34,171,148,0.42)"/><rect x="411.69" y="441.4" width="0.84" height="24.1" fill="rgba(242,54,69,0.45)"/><rect x="413.07" y="448.5" width="0.84" height="17.0" fill="rgba(242,54,69,0.45)"/><rect x="414.44" y="443.4" width="0.84" height="22.1" fill="rgba(34,171,148,0.42)"/><rect x="415.82" y="440.5" width="0.84" height="25.0" fill="rgba(242,54,69,0.45)"/><rect x="417.19" y="449.6" width="0.84" height="15.9" fill="rgba(34,171,148,0.42)"/><rect x="418.57" y="440.1" width="0.84" height="25.4" fill="rgba(34,171,148,0.42)"/><rect x="419.94" y="440.1" width="0.84" height="25.4" fill="rgba(34,171,148,0.42)"/><rect x="421.31" y="433.6" width="0.84" height="31.9" fill="rgba(242,54,69,0.45)"/><rect x="422.69" y="441.7" width="0.84" height="23.8" fill="rgba(34,171,148,0.42)"/><rect x="424.06" y="443.8" width="0.84" height="21.7" fill="rgba(34,171,148,0.42)"/><rect x="425.44" y="444.8" width="0.84" height="20.7" fill="rgba(34,171,148,0.42)"/><rect x="426.81" y="432.8" width="0.84" height="32.7" fill="rgba(242,54,69,0.45)"/><rect x="428.19" y="428.2" width="0.84" height="37.3" fill="rgba(34,171,148,0.42)"/><rect x="429.56" y="437.8" width="0.84" height="27.7" fill="rgba(34,171,148,0.42)"/><rect x="430.93" y="445.0" width="0.84" height="20.5" fill="rgba(242,54,69,0.45)"/><rect x="432.31" y="431.6" width="0.84" height="33.9" fill="rgba(242,54,69,0.45)"/><rect x="433.68" y="441.1" width="0.84" height="24.4" fill="rgba(34,171,148,0.42)"/><rect x="435.06" y="445.2" width="0.84" height="20.3" fill="rgba(34,171,148,0.42)"/><rect x="436.43" y="447.2" width="0.84" height="18.3" fill="rgba(242,54,69,0.45)"/><rect x="437.80" y="432.3" width="0.84" height="33.2" fill="rgba(34,171,148,0.42)"/><rect x="439.18" y="431.6" width="0.84" height="33.9" fill="rgba(242,54,69,0.45)"/><rect x="440.55" y="435.7" width="0.84" height="29.8" fill="rgba(34,171,148,0.42)"/><rect x="441.93" y="439.5" width="0.84" height="26.0" fill="rgba(34,171,148,0.42)"/><rect x="443.30" y="437.4" width="0.84" height="28.1" fill="rgba(242,54,69,0.45)"/><rect x="444.68" y="445.1" width="0.84" height="20.4" fill="rgba(34,171,148,0.42)"/><rect x="446.05" y="428.3" width="0.84" height="37.2" fill="rgba(242,54,69,0.45)"/><rect x="447.42" y="442.3" width="0.84" height="23.2" fill="rgba(242,54,69,0.45)"/><rect x="448.80" y="435.8" width="0.84" height="29.7" fill="rgba(34,171,148,0.42)"/><rect x="450.17" y="431.8" width="0.84" height="33.7" fill="rgba(242,54,69,0.45)"/><rect x="451.55" y="431.9" width="0.84" height="33.6" fill="rgba(242,54,69,0.45)"/><rect x="452.92" y="439.8" width="0.84" height="25.7" fill="rgba(34,171,148,0.42)"/><rect x="454.30" y="443.8" width="0.84" height="21.7" fill="rgba(242,54,69,0.45)"/><rect x="455.67" y="438.1" width="0.84" height="27.4" fill="rgba(34,171,148,0.42)"/><rect x="457.04" y="447.6" width="0.84" height="17.9" fill="rgba(34,171,148,0.42)"/><rect x="458.42" y="431.7" width="0.84" height="33.8" fill="rgba(242,54,69,0.45)"/><rect x="459.79" y="442.3" width="0.84" height="23.2" fill="rgba(242,54,69,0.45)"/><rect x="461.17" y="428.8" width="0.84" height="36.7" fill="rgba(34,171,148,0.42)"/><rect x="462.54" y="441.5" width="0.84" height="24.0" fill="rgba(242,54,69,0.45)"/><rect x="463.91" y="437.2" width="0.84" height="28.3" fill="rgba(242,54,69,0.45)"/><rect x="465.29" y="439.1" width="0.84" height="26.4" fill="rgba(242,54,69,0.45)"/><rect x="466.66" y="389.0" width="0.84" height="76.5" fill="rgba(242,54,69,0.45)"/><rect x="468.04" y="438.5" width="0.84" height="27.0" fill="rgba(34,171,148,0.42)"/><rect x="469.41" y="443.3" width="0.84" height="22.2" fill="rgba(242,54,69,0.45)"/><rect x="470.79" y="421.1" width="0.84" height="44.4" fill="rgba(242,54,69,0.45)"/><rect x="472.16" y="436.6" width="0.84" height="28.9" fill="rgba(242,54,69,0.45)"/><rect x="473.53" y="374.5" width="0.84" height="91.0" fill="rgba(34,171,148,0.42)"/><rect x="474.91" y="361.0" width="0.84" height="104.5" fill="rgba(34,171,148,0.42)"/><rect x="476.28" y="435.6" width="0.84" height="29.9" fill="rgba(242,54,69,0.45)"/><rect x="477.66" y="438.6" width="0.84" height="26.9" fill="rgba(34,171,148,0.42)"/><rect x="479.03" y="435.4" width="0.84" height="30.1" fill="rgba(242,54,69,0.45)"/><rect x="480.40" y="435.6" width="0.84" height="29.9" fill="rgba(34,171,148,0.42)"/><rect x="481.78" y="442.2" width="0.84" height="23.3" fill="rgba(242,54,69,0.45)"/><rect x="483.15" y="429.3" width="0.84" height="36.2" fill="rgba(34,171,148,0.42)"/><rect x="484.53" y="430.8" width="0.84" height="34.7" fill="rgba(34,171,148,0.42)"/><rect x="485.90" y="448.9" width="0.84" height="16.6" fill="rgba(242,54,69,0.45)"/><rect x="487.28" y="431.2" width="0.84" height="34.3" fill="rgba(34,171,148,0.42)"/><rect x="488.65" y="429.3" width="0.84" height="36.2" fill="rgba(242,54,69,0.45)"/><rect x="490.02" y="432.0" width="0.84" height="33.5" fill="rgba(242,54,69,0.45)"/><rect x="491.40" y="446.8" width="0.84" height="18.7" fill="rgba(242,54,69,0.45)"/><rect x="492.77" y="430.6" width="0.84" height="34.9" fill="rgba(34,171,148,0.42)"/><rect x="494.15" y="435.1" width="0.84" height="30.4" fill="rgba(34,171,148,0.42)"/><rect x="495.52" y="449.5" width="0.84" height="16.0" fill="rgba(242,54,69,0.45)"/><rect x="496.90" y="449.5" width="0.84" height="16.0" fill="rgba(34,171,148,0.42)"/><rect x="498.27" y="427.3" width="0.84" height="38.2" fill="rgba(242,54,69,0.45)"/><rect x="499.64" y="434.1" width="0.84" height="31.4" fill="rgba(242,54,69,0.45)"/><rect x="501.02" y="443.7" width="0.84" height="21.8" fill="rgba(34,171,148,0.42)"/><rect x="502.39" y="416.0" width="0.84" height="49.5" fill="rgba(34,171,148,0.42)"/><rect x="503.77" y="446.1" width="0.84" height="19.4" fill="rgba(242,54,69,0.45)"/><rect x="505.14" y="443.9" width="0.84" height="21.6" fill="rgba(242,54,69,0.45)"/><rect x="506.51" y="430.7" width="0.84" height="34.8" fill="rgba(242,54,69,0.45)"/><rect x="507.89" y="441.0" width="0.84" height="24.5" fill="rgba(34,171,148,0.42)"/><rect x="509.26" y="445.6" width="0.84" height="19.9" fill="rgba(34,171,148,0.42)"/></g>
<!-- candles -->
<g><rect x="7.80" y="210.0" width="0.6" height="36.0" fill="#f23645"/><rect x="7.62" y="211.0" width="0.96" height="33.0" fill="#f23645"/><rect x="9.17" y="236.2" width="0.6" height="3.6" fill="#22ab94"/><rect x="8.99" y="239.0" width="0.96" height="0.8" fill="#22ab94"/><rect x="10.55" y="237.7" width="0.6" height="6.8" fill="#f23645"/><rect x="10.37" y="239.0" width="0.96" height="2.4" fill="#f23645"/><rect x="11.92" y="235.7" width="0.6" height="6.3" fill="#22ab94"/><rect x="11.74" y="236.9" width="0.96" height="4.5" fill="#22ab94"/><rect x="13.30" y="234.3" width="0.6" height="4.8" fill="#f23645"/><rect x="13.12" y="236.9" width="0.96" height="0.8" fill="#f23645"/><rect x="14.67" y="232.6" width="0.6" height="20.7" fill="#f23645"/><rect x="14.49" y="237.7" width="0.96" height="10.4" fill="#f23645"/><rect x="16.05" y="245.0" width="0.6" height="4.0" fill="#22ab94"/><rect x="15.87" y="246.4" width="0.96" height="1.7" fill="#22ab94"/><rect x="17.42" y="244.8" width="0.6" height="11.0" fill="#f23645"/><rect x="17.24" y="246.4" width="0.96" height="7.5" fill="#f23645"/><rect x="18.79" y="252.7" width="0.6" height="15.8" fill="#f23645"/><rect x="18.61" y="253.9" width="0.96" height="12.6" fill="#f23645"/><rect x="20.17" y="264.8" width="0.6" height="11.5" fill="#f23645"/><rect x="19.99" y="266.5" width="0.96" height="6.2" fill="#f23645"/><rect x="21.54" y="254.7" width="0.6" height="19.0" fill="#22ab94"/><rect x="21.36" y="257.0" width="0.96" height="15.7" fill="#22ab94"/><rect x="22.92" y="254.5" width="0.6" height="3.2" fill="#22ab94"/><rect x="22.74" y="256.4" width="0.96" height="0.8" fill="#22ab94"/><rect x="24.29" y="251.1" width="0.6" height="6.9" fill="#22ab94"/><rect x="24.11" y="254.0" width="0.96" height="2.5" fill="#22ab94"/><rect x="25.66" y="251.6" width="0.6" height="10.5" fill="#f23645"/><rect x="25.48" y="254.0" width="0.96" height="7.3" fill="#f23645"/><rect x="27.04" y="255.2" width="0.6" height="6.3" fill="#22ab94"/><rect x="26.86" y="259.7" width="0.96" height="1.6" fill="#22ab94"/><rect x="28.41" y="249.6" width="0.6" height="11.1" fill="#22ab94"/><rect x="28.23" y="255.6" width="0.96" height="4.1" fill="#22ab94"/><rect x="29.79" y="247.2" width="0.6" height="9.9" fill="#22ab94"/><rect x="29.61" y="249.7" width="0.96" height="6.0" fill="#22ab94"/><rect x="31.16" y="245.3" width="0.6" height="8.9" fill="#f23645"/><rect x="30.98" y="249.7" width="0.96" height="2.0" fill="#f23645"/><rect x="32.54" y="248.8" width="0.6" height="15.0" fill="#f23645"/><rect x="32.36" y="251.6" width="0.96" height="7.8" fill="#f23645"/><rect x="33.91" y="257.0" width="0.6" height="6.4" fill="#22ab94"/><rect x="33.73" y="257.3" width="0.96" height="2.1" fill="#22ab94"/><rect x="35.28" y="253.1" width="0.6" height="5.6" fill="#22ab94"/><rect x="35.10" y="254.9" width="0.96" height="2.4" fill="#22ab94"/><rect x="36.66" y="241.2" width="0.6" height="15.3" fill="#22ab94"/><rect x="36.48" y="244.1" width="0.96" height="10.8" fill="#22ab94"/><rect x="38.03" y="238.0" width="0.6" height="11.7" fill="#f23645"/><rect x="37.85" y="244.1" width="0.96" height="1.2" fill="#f23645"/><rect x="39.41" y="241.0" width="0.6" height="7.5" fill="#f23645"/><rect x="39.23" y="245.3" width="0.96" height="1.5" fill="#f23645"/><rect x="40.78" y="237.7" width="0.6" height="10.1" fill="#22ab94"/><rect x="40.60" y="245.2" width="0.96" height="1.5" fill="#22ab94"/><rect x="42.16" y="241.9" width="0.6" height="14.1" fill="#f23645"/><rect x="41.98" y="245.2" width="0.96" height="7.9" fill="#f23645"/><rect x="43.53" y="252.6" width="0.6" height="8.5" fill="#f23645"/><rect x="43.35" y="253.1" width="0.96" height="7.3" fill="#f23645"/><rect x="44.90" y="254.5" width="0.6" height="7.7" fill="#22ab94"/><rect x="44.72" y="259.3" width="0.96" height="1.1" fill="#22ab94"/><rect x="46.28" y="257.2" width="0.6" height="6.8" fill="#22ab94"/><rect x="46.10" y="258.9" width="0.96" height="0.8" fill="#22ab94"/><rect x="47.65" y="254.9" width="0.6" height="5.6" fill="#22ab94"/><rect x="47.47" y="257.8" width="0.96" height="1.1" fill="#22ab94"/><rect x="49.03" y="245.7" width="0.6" height="14.6" fill="#22ab94"/><rect x="48.85" y="247.6" width="0.96" height="10.2" fill="#22ab94"/><rect x="50.40" y="247.0" width="0.6" height="13.3" fill="#f23645"/><rect x="50.22" y="247.6" width="0.96" height="9.7" fill="#f23645"/><rect x="51.77" y="252.4" width="0.6" height="10.7" fill="#f23645"/><rect x="51.59" y="257.3" width="0.96" height="4.2" fill="#f23645"/><rect x="53.15" y="260.5" width="0.6" height="19.0" fill="#f23645"/><rect x="52.97" y="261.5" width="0.96" height="16.1" fill="#f23645"/><rect x="54.52" y="274.1" width="0.6" height="12.1" fill="#f23645"/><rect x="54.34" y="277.6" width="0.96" height="6.7" fill="#f23645"/><rect x="55.90" y="280.1" width="0.6" height="15.9" fill="#22ab94"/><rect x="55.72" y="283.2" width="0.96" height="1.0" fill="#22ab94"/><rect x="57.27" y="275.4" width="0.6" height="12.2" fill="#22ab94"/><rect x="57.09" y="278.3" width="0.96" height="4.9" fill="#22ab94"/><rect x="58.65" y="269.7" width="0.6" height="8.9" fill="#22ab94"/><rect x="58.47" y="273.8" width="0.96" height="4.4" fill="#22ab94"/><rect x="60.02" y="267.1" width="0.6" height="10.9" fill="#22ab94"/><rect x="59.84" y="268.0" width="0.96" height="5.8" fill="#22ab94"/><rect x="61.39" y="255.0" width="0.6" height="16.8" fill="#22ab94"/><rect x="61.21" y="258.8" width="0.96" height="9.2" fill="#22ab94"/><rect x="62.77" y="251.6" width="0.6" height="10.6" fill="#22ab94"/><rect x="62.59" y="253.4" width="0.96" height="5.4" fill="#22ab94"/><rect x="64.14" y="252.4" width="0.6" height="6.0" fill="#f23645"/><rect x="63.96" y="253.4" width="0.96" height="4.6" fill="#f23645"/><rect x="65.52" y="253.4" width="0.6" height="5.2" fill="#22ab94"/><rect x="65.34" y="255.1" width="0.96" height="2.9" fill="#22ab94"/><rect x="66.89" y="253.0" width="0.6" height="2.1" fill="#22ab94"/><rect x="66.71" y="254.7" width="0.96" height="0.8" fill="#22ab94"/><rect x="68.26" y="253.0" width="0.6" height="7.9" fill="#f23645"/><rect x="68.08" y="254.7" width="0.96" height="0.8" fill="#f23645"/><rect x="69.64" y="250.8" width="0.6" height="5.2" fill="#22ab94"/><rect x="69.46" y="252.1" width="0.96" height="2.8" fill="#22ab94"/><rect x="71.01" y="246.7" width="0.6" height="6.4" fill="#22ab94"/><rect x="70.83" y="249.4" width="0.96" height="2.7" fill="#22ab94"/><rect x="72.39" y="242.9" width="0.6" height="14.2" fill="#22ab94"/><rect x="72.21" y="248.4" width="0.96" height="1.0" fill="#22ab94"/><rect x="73.76" y="240.5" width="0.6" height="9.1" fill="#22ab94"/><rect x="73.58" y="241.3" width="0.96" height="7.2" fill="#22ab94"/><rect x="75.14" y="240.0" width="0.6" height="4.4" fill="#f23645"/><rect x="74.96" y="241.3" width="0.96" height="1.2" fill="#f23645"/><rect x="76.51" y="237.8" width="0.6" height="11.9" fill="#22ab94"/><rect x="76.33" y="239.3" width="0.96" height="3.1" fill="#22ab94"/><rect x="77.88" y="237.0" width="0.6" height="2.6" fill="#22ab94"/><rect x="77.70" y="238.7" width="0.96" height="0.8" fill="#22ab94"/><rect x="79.26" y="236.1" width="0.6" height="10.8" fill="#22ab94"/><rect x="79.08" y="236.3" width="0.96" height="2.4" fill="#22ab94"/><rect x="80.63" y="231.8" width="0.6" height="7.9" fill="#22ab94"/><rect x="80.45" y="234.9" width="0.96" height="1.4" fill="#22ab94"/><rect x="82.01" y="232.0" width="0.6" height="6.4" fill="#f23645"/><rect x="81.83" y="234.9" width="0.96" height="1.0" fill="#f23645"/><rect x="83.38" y="230.7" width="0.6" height="11.4" fill="#f23645"/><rect x="83.20" y="235.8" width="0.96" height="5.3" fill="#f23645"/><rect x="84.76" y="233.7" width="0.6" height="10.7" fill="#22ab94"/><rect x="84.58" y="235.5" width="0.96" height="5.6" fill="#22ab94"/><rect x="86.13" y="225.0" width="0.6" height="14.8" fill="#22ab94"/><rect x="85.95" y="228.3" width="0.96" height="7.2" fill="#22ab94"/><rect x="87.50" y="223.8" width="0.6" height="16.0" fill="#f23645"/><rect x="87.32" y="228.3" width="0.96" height="11.0" fill="#f23645"/><rect x="88.88" y="238.9" width="0.6" height="2.9" fill="#f23645"/><rect x="88.70" y="239.3" width="0.96" height="1.9" fill="#f23645"/><rect x="90.25" y="239.8" width="0.6" height="1.7" fill="#22ab94"/><rect x="90.07" y="240.3" width="0.96" height="1.0" fill="#22ab94"/><rect x="91.63" y="237.1" width="0.6" height="6.7" fill="#f23645"/><rect x="91.45" y="240.3" width="0.96" height="2.6" fill="#f23645"/><rect x="93.00" y="239.5" width="0.6" height="9.6" fill="#f23645"/><rect x="92.82" y="242.9" width="0.96" height="3.4" fill="#f23645"/><rect x="94.37" y="235.7" width="0.6" height="12.7" fill="#22ab94"/><rect x="94.19" y="236.1" width="0.96" height="10.2" fill="#22ab94"/><rect x="95.75" y="234.2" width="0.6" height="7.5" fill="#f23645"/><rect x="95.57" y="236.1" width="0.96" height="1.0" fill="#f23645"/><rect x="97.12" y="226.4" width="0.6" height="13.6" fill="#22ab94"/><rect x="96.94" y="228.2" width="0.96" height="8.9" fill="#22ab94"/><rect x="98.50" y="215.7" width="0.6" height="16.3" fill="#22ab94"/><rect x="98.32" y="220.1" width="0.96" height="8.1" fill="#22ab94"/><rect x="99.87" y="215.7" width="0.6" height="8.0" fill="#f23645"/><rect x="99.69" y="220.1" width="0.96" height="0.8" fill="#f23645"/><rect x="101.25" y="210.9" width="0.6" height="12.2" fill="#22ab94"/><rect x="101.07" y="214.4" width="0.96" height="6.5" fill="#22ab94"/><rect x="102.62" y="211.7" width="0.6" height="10.8" fill="#f23645"/><rect x="102.44" y="214.4" width="0.96" height="3.4" fill="#f23645"/><rect x="103.99" y="214.9" width="0.6" height="8.8" fill="#22ab94"/><rect x="103.81" y="215.4" width="0.96" height="2.4" fill="#22ab94"/><rect x="105.37" y="215.1" width="0.6" height="4.5" fill="#f23645"/><rect x="105.19" y="215.4" width="0.96" height="2.4" fill="#f23645"/><rect x="106.74" y="216.1" width="0.6" height="6.2" fill="#22ab94"/><rect x="106.56" y="217.4" width="0.96" height="0.8" fill="#22ab94"/><rect x="108.12" y="211.7" width="0.6" height="10.1" fill="#22ab94"/><rect x="107.94" y="215.2" width="0.96" height="2.2" fill="#22ab94"/><rect x="109.49" y="214.6" width="0.6" height="12.1" fill="#f23645"/><rect x="109.31" y="215.2" width="0.96" height="9.3" fill="#f23645"/><rect x="110.87" y="224.1" width="0.6" height="0.7" fill="#22ab94"/><rect x="110.69" y="224.4" width="0.96" height="0.8" fill="#22ab94"/><rect x="112.24" y="223.6" width="0.6" height="8.7" fill="#f23645"/><rect x="112.06" y="224.4" width="0.96" height="1.1" fill="#f23645"/><rect x="113.61" y="211.4" width="0.6" height="16.6" fill="#22ab94"/><rect x="113.43" y="216.9" width="0.96" height="8.5" fill="#22ab94"/><rect x="114.99" y="214.6" width="0.6" height="2.4" fill="#22ab94"/><rect x="114.81" y="216.4" width="0.96" height="0.8" fill="#22ab94"/><rect x="116.36" y="215.8" width="0.6" height="4.7" fill="#22ab94"/><rect x="116.18" y="216.0" width="0.96" height="0.8" fill="#22ab94"/><rect x="117.74" y="208.6" width="0.6" height="11.8" fill="#22ab94"/><rect x="117.56" y="211.8" width="0.96" height="4.2" fill="#22ab94"/><rect x="119.11" y="209.8" width="0.6" height="8.6" fill="#f23645"/><rect x="118.93" y="211.8" width="0.96" height="4.0" fill="#f23645"/><rect x="120.48" y="201.3" width="0.6" height="20.3" fill="#22ab94"/><rect x="120.30" y="204.6" width="0.96" height="11.2" fill="#22ab94"/><rect x="121.86" y="200.9" width="0.6" height="14.2" fill="#f23645"/><rect x="121.68" y="204.6" width="0.96" height="10.5" fill="#f23645"/><rect x="123.23" y="211.9" width="0.6" height="4.9" fill="#22ab94"/><rect x="123.05" y="212.0" width="0.96" height="3.0" fill="#22ab94"/><rect x="124.61" y="206.7" width="0.6" height="7.8" fill="#f23645"/><rect x="124.43" y="212.0" width="0.96" height="2.3" fill="#f23645"/><rect x="125.98" y="211.4" width="0.6" height="5.5" fill="#f23645"/><rect x="125.80" y="214.4" width="0.96" height="1.9" fill="#f23645"/><rect x="127.36" y="211.7" width="0.6" height="7.7" fill="#22ab94"/><rect x="127.18" y="213.4" width="0.96" height="2.8" fill="#22ab94"/><rect x="128.73" y="211.6" width="0.6" height="8.6" fill="#f23645"/><rect x="128.55" y="213.4" width="0.96" height="3.8" fill="#f23645"/><rect x="130.10" y="217.2" width="0.6" height="14.2" fill="#f23645"/><rect x="129.92" y="217.2" width="0.96" height="11.8" fill="#f23645"/><rect x="131.48" y="224.8" width="0.6" height="8.9" fill="#22ab94"/><rect x="131.30" y="228.3" width="0.96" height="0.8" fill="#22ab94"/><rect x="132.85" y="224.3" width="0.6" height="5.7" fill="#22ab94"/><rect x="132.67" y="227.1" width="0.96" height="1.2" fill="#22ab94"/><rect x="134.23" y="224.8" width="0.6" height="7.7" fill="#f23645"/><rect x="134.05" y="227.1" width="0.96" height="0.8" fill="#f23645"/><rect x="135.60" y="224.4" width="0.6" height="9.2" fill="#f23645"/><rect x="135.42" y="227.9" width="0.96" height="4.6" fill="#f23645"/><rect x="136.97" y="226.4" width="0.6" height="8.0" fill="#22ab94"/><rect x="136.79" y="227.4" width="0.96" height="5.1" fill="#22ab94"/><rect x="138.35" y="225.2" width="0.6" height="4.1" fill="#f23645"/><rect x="138.17" y="227.4" width="0.96" height="1.1" fill="#f23645"/><rect x="139.72" y="222.2" width="0.6" height="7.2" fill="#22ab94"/><rect x="139.54" y="224.8" width="0.96" height="3.7" fill="#22ab94"/><rect x="141.10" y="222.5" width="0.6" height="8.4" fill="#f23645"/><rect x="140.92" y="224.8" width="0.96" height="3.8" fill="#f23645"/><rect x="142.47" y="227.7" width="0.6" height="6.7" fill="#f23645"/><rect x="142.29" y="228.7" width="0.96" height="1.8" fill="#f23645"/><rect x="143.85" y="226.5" width="0.6" height="10.2" fill="#22ab94"/><rect x="143.67" y="227.8" width="0.96" height="2.6" fill="#22ab94"/><rect x="145.22" y="221.9" width="0.6" height="6.8" fill="#22ab94"/><rect x="145.04" y="225.8" width="0.96" height="2.0" fill="#22ab94"/><rect x="146.59" y="219.1" width="0.6" height="12.0" fill="#22ab94"/><rect x="146.41" y="225.0" width="0.96" height="0.9" fill="#22ab94"/><rect x="147.97" y="217.7" width="0.6" height="18.9" fill="#f23645"/><rect x="147.79" y="225.0" width="0.96" height="8.9" fill="#f23645"/><rect x="149.34" y="228.2" width="0.6" height="8.6" fill="#f23645"/><rect x="149.16" y="233.9" width="0.96" height="2.5" fill="#f23645"/><rect x="150.72" y="233.7" width="0.6" height="6.8" fill="#f23645"/><rect x="150.54" y="236.4" width="0.96" height="1.4" fill="#f23645"/><rect x="152.09" y="236.7" width="0.6" height="3.6" fill="#22ab94"/><rect x="151.91" y="237.6" width="0.96" height="0.8" fill="#22ab94"/><rect x="153.47" y="237.0" width="0.6" height="5.6" fill="#f23645"/><rect x="153.29" y="237.6" width="0.96" height="2.0" fill="#f23645"/><rect x="154.84" y="236.9" width="0.6" height="3.0" fill="#f23645"/><rect x="154.66" y="239.6" width="0.96" height="0.8" fill="#f23645"/><rect x="156.21" y="236.4" width="0.6" height="11.2" fill="#22ab94"/><rect x="156.03" y="238.9" width="0.96" height="0.8" fill="#22ab94"/><rect x="157.59" y="237.0" width="0.6" height="17.3" fill="#f23645"/><rect x="157.41" y="238.9" width="0.96" height="7.6" fill="#f23645"/><rect x="158.96" y="244.8" width="0.6" height="6.8" fill="#22ab94"/><rect x="158.78" y="246.3" width="0.96" height="0.8" fill="#22ab94"/><rect x="160.34" y="245.5" width="0.6" height="12.0" fill="#22ab94"/><rect x="160.16" y="245.7" width="0.96" height="0.8" fill="#22ab94"/><rect x="161.71" y="233.7" width="0.6" height="13.0" fill="#22ab94"/><rect x="161.53" y="236.8" width="0.96" height="9.0" fill="#22ab94"/><rect x="163.08" y="232.8" width="0.6" height="12.1" fill="#f23645"/><rect x="162.90" y="236.8" width="0.96" height="2.7" fill="#f23645"/><rect x="164.46" y="234.3" width="0.6" height="6.0" fill="#22ab94"/><rect x="164.28" y="236.3" width="0.96" height="3.2" fill="#22ab94"/><rect x="165.83" y="235.1" width="0.6" height="8.1" fill="#f23645"/><rect x="165.65" y="236.3" width="0.96" height="3.9" fill="#f23645"/><rect x="167.21" y="237.2" width="0.6" height="9.7" fill="#f23645"/><rect x="167.03" y="240.3" width="0.96" height="3.0" fill="#f23645"/><rect x="168.58" y="223.9" width="0.6" height="22.4" fill="#22ab94"/><rect x="168.40" y="229.0" width="0.96" height="14.3" fill="#22ab94"/><rect x="169.96" y="226.5" width="0.6" height="15.7" fill="#f23645"/><rect x="169.78" y="229.0" width="0.96" height="10.7" fill="#f23645"/><rect x="171.33" y="229.1" width="0.6" height="12.8" fill="#22ab94"/><rect x="171.15" y="235.6" width="0.96" height="4.1" fill="#22ab94"/><rect x="172.70" y="232.9" width="0.6" height="4.9" fill="#22ab94"/><rect x="172.52" y="234.5" width="0.96" height="1.1" fill="#22ab94"/><rect x="174.08" y="232.4" width="0.6" height="3.2" fill="#22ab94"/><rect x="173.90" y="233.8" width="0.96" height="0.8" fill="#22ab94"/><rect x="175.45" y="233.2" width="0.6" height="4.3" fill="#f23645"/><rect x="175.27" y="233.8" width="0.96" height="2.7" fill="#f23645"/><rect x="176.83" y="236.4" width="0.6" height="4.0" fill="#f23645"/><rect x="176.65" y="236.5" width="0.96" height="1.4" fill="#f23645"/><rect x="178.20" y="233.3" width="0.6" height="4.9" fill="#22ab94"/><rect x="178.02" y="233.3" width="0.96" height="4.6" fill="#22ab94"/><rect x="179.57" y="233.3" width="0.6" height="1.2" fill="#f23645"/><rect x="179.40" y="233.3" width="0.96" height="0.8" fill="#f23645"/><rect x="180.95" y="227.3" width="0.6" height="8.0" fill="#22ab94"/><rect x="180.77" y="231.1" width="0.96" height="2.9" fill="#22ab94"/><rect x="182.32" y="229.8" width="0.6" height="2.9" fill="#f23645"/><rect x="182.14" y="231.1" width="0.96" height="1.1" fill="#f23645"/><rect x="183.70" y="224.5" width="0.6" height="13.3" fill="#22ab94"/><rect x="183.52" y="227.4" width="0.96" height="4.7" fill="#22ab94"/><rect x="185.07" y="222.7" width="0.6" height="6.9" fill="#22ab94"/><rect x="184.89" y="225.5" width="0.96" height="1.9" fill="#22ab94"/><rect x="186.45" y="213.3" width="0.6" height="15.4" fill="#22ab94"/><rect x="186.27" y="221.2" width="0.96" height="4.3" fill="#22ab94"/><rect x="187.82" y="220.0" width="0.6" height="13.1" fill="#f23645"/><rect x="187.64" y="221.2" width="0.96" height="7.8" fill="#f23645"/><rect x="189.19" y="219.0" width="0.6" height="11.5" fill="#22ab94"/><rect x="189.01" y="220.6" width="0.96" height="8.4" fill="#22ab94"/><rect x="190.57" y="216.1" width="0.6" height="8.7" fill="#f23645"/><rect x="190.39" y="220.6" width="0.96" height="2.1" fill="#f23645"/><rect x="191.94" y="216.8" width="0.6" height="10.8" fill="#22ab94"/><rect x="191.76" y="218.6" width="0.96" height="4.0" fill="#22ab94"/><rect x="193.32" y="215.1" width="0.6" height="6.8" fill="#22ab94"/><rect x="193.14" y="218.1" width="0.96" height="0.8" fill="#22ab94"/><rect x="194.69" y="210.0" width="0.6" height="9.0" fill="#22ab94"/><rect x="194.51" y="212.2" width="0.96" height="5.9" fill="#22ab94"/><rect x="196.07" y="210.4" width="0.6" height="6.6" fill="#f23645"/><rect x="195.89" y="212.2" width="0.96" height="2.1" fill="#f23645"/><rect x="197.44" y="197.2" width="0.6" height="20.7" fill="#22ab94"/><rect x="197.26" y="204.9" width="0.96" height="9.4" fill="#22ab94"/><rect x="198.81" y="197.2" width="0.6" height="15.4" fill="#22ab94"/><rect x="198.63" y="197.5" width="0.96" height="7.4" fill="#22ab94"/><rect x="200.19" y="194.9" width="0.6" height="7.4" fill="#f23645"/><rect x="200.01" y="197.5" width="0.96" height="1.9" fill="#f23645"/><rect x="201.56" y="195.9" width="0.6" height="7.5" fill="#f23645"/><rect x="201.38" y="199.4" width="0.96" height="3.4" fill="#f23645"/><rect x="202.94" y="199.4" width="0.6" height="8.3" fill="#f23645"/><rect x="202.76" y="202.8" width="0.96" height="2.6" fill="#f23645"/><rect x="204.31" y="202.8" width="0.6" height="4.5" fill="#f23645"/><rect x="204.13" y="205.4" width="0.96" height="0.8" fill="#f23645"/><rect x="205.68" y="205.5" width="0.6" height="1.5" fill="#f23645"/><rect x="205.50" y="205.7" width="0.96" height="0.8" fill="#f23645"/><rect x="207.06" y="203.2" width="0.6" height="6.1" fill="#f23645"/><rect x="206.88" y="206.3" width="0.96" height="1.1" fill="#f23645"/><rect x="208.43" y="201.8" width="0.6" height="6.9" fill="#22ab94"/><rect x="208.25" y="206.2" width="0.96" height="1.2" fill="#22ab94"/><rect x="209.81" y="200.0" width="0.6" height="7.9" fill="#22ab94"/><rect x="209.63" y="202.1" width="0.96" height="4.2" fill="#22ab94"/><rect x="211.18" y="201.9" width="0.6" height="13.0" fill="#f23645"/><rect x="211.00" y="202.1" width="0.96" height="12.1" fill="#f23645"/><rect x="212.56" y="208.7" width="0.6" height="7.6" fill="#f23645"/><rect x="212.38" y="214.2" width="0.96" height="0.8" fill="#f23645"/><rect x="213.93" y="212.1" width="0.6" height="13.6" fill="#f23645"/><rect x="213.75" y="214.7" width="0.96" height="10.4" fill="#f23645"/><rect x="215.30" y="215.3" width="0.6" height="12.6" fill="#22ab94"/><rect x="215.12" y="217.6" width="0.96" height="7.5" fill="#22ab94"/><rect x="216.68" y="217.3" width="0.6" height="2.3" fill="#22ab94"/><rect x="216.50" y="217.4" width="0.96" height="0.8" fill="#22ab94"/><rect x="218.05" y="211.7" width="0.6" height="8.9" fill="#22ab94"/><rect x="217.87" y="217.2" width="0.96" height="0.8" fill="#22ab94"/><rect x="219.43" y="213.0" width="0.6" height="7.2" fill="#f23645"/><rect x="219.25" y="217.2" width="0.96" height="2.9" fill="#f23645"/><rect x="220.80" y="218.2" width="0.6" height="4.5" fill="#f23645"/><rect x="220.62" y="220.1" width="0.96" height="0.8" fill="#f23645"/><rect x="222.18" y="217.1" width="0.6" height="8.7" fill="#f23645"/><rect x="222.00" y="220.6" width="0.96" height="1.3" fill="#f23645"/><rect x="223.55" y="209.5" width="0.6" height="15.6" fill="#22ab94"/><rect x="223.37" y="212.7" width="0.96" height="9.2" fill="#22ab94"/><rect x="224.92" y="212.5" width="0.6" height="1.7" fill="#22ab94"/><rect x="224.74" y="212.5" width="0.96" height="0.8" fill="#22ab94"/><rect x="226.30" y="202.6" width="0.6" height="10.0" fill="#22ab94"/><rect x="226.12" y="206.3" width="0.96" height="6.2" fill="#22ab94"/><rect x="227.67" y="205.4" width="0.6" height="4.2" fill="#f23645"/><rect x="227.49" y="206.3" width="0.96" height="3.1" fill="#f23645"/><rect x="229.05" y="201.0" width="0.6" height="9.5" fill="#22ab94"/><rect x="228.87" y="203.1" width="0.96" height="6.3" fill="#22ab94"/><rect x="230.42" y="198.6" width="0.6" height="5.0" fill="#22ab94"/><rect x="230.24" y="200.7" width="0.96" height="2.4" fill="#22ab94"/><rect x="231.79" y="187.3" width="0.6" height="13.5" fill="#22ab94"/><rect x="231.61" y="190.2" width="0.96" height="10.5" fill="#22ab94"/><rect x="233.17" y="189.6" width="0.6" height="3.6" fill="#f23645"/><rect x="232.99" y="190.2" width="0.96" height="2.5" fill="#f23645"/><rect x="234.54" y="192.0" width="0.6" height="4.1" fill="#f23645"/><rect x="234.36" y="192.7" width="0.96" height="2.4" fill="#f23645"/><rect x="235.92" y="193.3" width="0.6" height="11.9" fill="#f23645"/><rect x="235.74" y="195.1" width="0.96" height="10.0" fill="#f23645"/><rect x="237.29" y="203.2" width="0.6" height="2.1" fill="#22ab94"/><rect x="237.11" y="203.7" width="0.96" height="1.5" fill="#22ab94"/><rect x="238.67" y="202.8" width="0.6" height="9.0" fill="#f23645"/><rect x="238.49" y="203.7" width="0.96" height="6.0" fill="#f23645"/><rect x="240.04" y="202.3" width="0.6" height="9.6" fill="#22ab94"/><rect x="239.86" y="203.4" width="0.96" height="6.2" fill="#22ab94"/><rect x="241.41" y="203.0" width="0.6" height="2.0" fill="#22ab94"/><rect x="241.23" y="203.3" width="0.96" height="0.8" fill="#22ab94"/><rect x="242.79" y="201.7" width="0.6" height="5.6" fill="#f23645"/><rect x="242.61" y="203.3" width="0.96" height="2.8" fill="#f23645"/><rect x="244.16" y="205.1" width="0.6" height="7.7" fill="#f23645"/><rect x="243.98" y="206.1" width="0.96" height="3.4" fill="#f23645"/><rect x="245.54" y="195.5" width="0.6" height="21.2" fill="#22ab94"/><rect x="245.36" y="198.8" width="0.96" height="10.7" fill="#22ab94"/><rect x="246.91" y="193.2" width="0.6" height="7.4" fill="#22ab94"/><rect x="246.73" y="194.0" width="0.96" height="4.8" fill="#22ab94"/><rect x="248.28" y="193.0" width="0.6" height="12.9" fill="#f23645"/><rect x="248.11" y="194.0" width="0.96" height="8.0" fill="#f23645"/><rect x="249.66" y="193.0" width="0.6" height="10.6" fill="#22ab94"/><rect x="249.48" y="195.8" width="0.96" height="6.2" fill="#22ab94"/><rect x="251.03" y="190.4" width="0.6" height="8.6" fill="#22ab94"/><rect x="250.85" y="191.9" width="0.96" height="3.9" fill="#22ab94"/><rect x="252.41" y="188.9" width="0.6" height="8.6" fill="#f23645"/><rect x="252.23" y="191.9" width="0.96" height="4.8" fill="#f23645"/><rect x="253.78" y="196.1" width="0.6" height="5.6" fill="#f23645"/><rect x="253.60" y="196.7" width="0.96" height="4.8" fill="#f23645"/><rect x="255.16" y="199.3" width="0.6" height="4.6" fill="#22ab94"/><rect x="254.98" y="199.4" width="0.96" height="2.1" fill="#22ab94"/><rect x="256.53" y="193.9" width="0.6" height="7.7" fill="#22ab94"/><rect x="256.35" y="195.6" width="0.96" height="3.8" fill="#22ab94"/><rect x="257.90" y="186.2" width="0.6" height="14.4" fill="#22ab94"/><rect x="257.72" y="191.5" width="0.96" height="4.1" fill="#22ab94"/><rect x="259.28" y="190.7" width="0.6" height="4.2" fill="#f23645"/><rect x="259.10" y="191.5" width="0.96" height="2.1" fill="#f23645"/><rect x="260.65" y="191.4" width="0.6" height="8.1" fill="#f23645"/><rect x="260.47" y="193.5" width="0.96" height="4.0" fill="#f23645"/><rect x="262.03" y="188.9" width="0.6" height="10.8" fill="#22ab94"/><rect x="261.85" y="191.0" width="0.96" height="6.5" fill="#22ab94"/><rect x="263.40" y="191.0" width="0.6" height="7.4" fill="#f23645"/><rect x="263.22" y="191.0" width="0.96" height="5.3" fill="#f23645"/><rect x="264.78" y="193.7" width="0.6" height="3.6" fill="#22ab94"/><rect x="264.60" y="193.9" width="0.96" height="2.5" fill="#22ab94"/><rect x="266.15" y="190.5" width="0.6" height="6.3" fill="#f23645"/><rect x="265.97" y="193.9" width="0.96" height="1.4" fill="#f23645"/><rect x="267.52" y="195.2" width="0.6" height="2.8" fill="#f23645"/><rect x="267.34" y="195.2" width="0.96" height="0.8" fill="#f23645"/><rect x="268.90" y="183.4" width="0.6" height="17.5" fill="#22ab94"/><rect x="268.72" y="183.5" width="0.96" height="12.1" fill="#22ab94"/><rect x="270.27" y="179.4" width="0.6" height="12.2" fill="#f23645"/><rect x="270.09" y="183.5" width="0.96" height="4.5" fill="#f23645"/><rect x="271.65" y="168.5" width="0.6" height="23.0" fill="#22ab94"/><rect x="271.47" y="173.3" width="0.96" height="14.7" fill="#22ab94"/><rect x="273.02" y="173.0" width="0.6" height="1.3" fill="#22ab94"/><rect x="272.84" y="173.2" width="0.96" height="0.8" fill="#22ab94"/><rect x="274.39" y="169.7" width="0.6" height="3.6" fill="#22ab94"/><rect x="274.21" y="172.9" width="0.96" height="0.8" fill="#22ab94"/><rect x="275.77" y="167.1" width="0.6" height="6.7" fill="#22ab94"/><rect x="275.59" y="167.4" width="0.96" height="5.6" fill="#22ab94"/><rect x="277.14" y="165.0" width="0.6" height="10.2" fill="#f23645"/><rect x="276.96" y="167.4" width="0.96" height="5.2" fill="#f23645"/><rect x="278.52" y="169.2" width="0.6" height="8.1" fill="#22ab94"/><rect x="278.34" y="170.6" width="0.96" height="1.9" fill="#22ab94"/><rect x="279.89" y="170.3" width="0.6" height="4.4" fill="#f23645"/><rect x="279.71" y="170.6" width="0.96" height="2.6" fill="#f23645"/><rect x="281.27" y="166.7" width="0.6" height="7.7" fill="#22ab94"/><rect x="281.09" y="169.5" width="0.96" height="3.8" fill="#22ab94"/><rect x="282.64" y="167.9" width="0.6" height="7.4" fill="#f23645"/><rect x="282.46" y="169.5" width="0.96" height="4.1" fill="#f23645"/><rect x="284.01" y="171.5" width="0.6" height="8.8" fill="#f23645"/><rect x="283.83" y="173.6" width="0.96" height="6.7" fill="#f23645"/><rect x="285.39" y="174.7" width="0.6" height="12.4" fill="#f23645"/><rect x="285.21" y="180.3" width="0.96" height="5.2" fill="#f23645"/><rect x="286.76" y="181.6" width="0.6" height="5.0" fill="#22ab94"/><rect x="286.58" y="182.1" width="0.96" height="3.4" fill="#22ab94"/><rect x="288.14" y="181.0" width="0.6" height="5.6" fill="#f23645"/><rect x="287.96" y="182.1" width="0.96" height="4.3" fill="#f23645"/><rect x="289.51" y="180.7" width="0.6" height="18.4" fill="#f23645"/><rect x="289.33" y="186.4" width="0.96" height="10.1" fill="#f23645"/><rect x="290.89" y="190.7" width="0.6" height="8.9" fill="#22ab94"/><rect x="290.71" y="193.8" width="0.96" height="2.7" fill="#22ab94"/><rect x="292.26" y="191.9" width="0.6" height="4.5" fill="#f23645"/><rect x="292.08" y="193.8" width="0.96" height="0.8" fill="#f23645"/><rect x="293.63" y="193.5" width="0.6" height="2.7" fill="#f23645"/><rect x="293.45" y="194.4" width="0.96" height="0.8" fill="#f23645"/><rect x="295.01" y="188.2" width="0.6" height="6.6" fill="#22ab94"/><rect x="294.83" y="192.4" width="0.96" height="2.3" fill="#22ab94"/><rect x="296.38" y="190.8" width="0.6" height="3.2" fill="#f23645"/><rect x="296.20" y="192.4" width="0.96" height="1.3" fill="#f23645"/><rect x="297.76" y="190.7" width="0.6" height="5.0" fill="#22ab94"/><rect x="297.58" y="193.3" width="0.96" height="0.8" fill="#22ab94"/><rect x="299.13" y="191.7" width="0.6" height="2.6" fill="#f23645"/><rect x="298.95" y="193.3" width="0.96" height="0.8" fill="#f23645"/><rect x="300.50" y="175.9" width="0.6" height="18.9" fill="#22ab94"/><rect x="300.32" y="180.5" width="0.96" height="13.3" fill="#22ab94"/><rect x="301.88" y="178.4" width="0.6" height="3.3" fill="#f23645"/><rect x="301.70" y="180.5" width="0.96" height="1.2" fill="#f23645"/><rect x="303.25" y="172.1" width="0.6" height="13.9" fill="#22ab94"/><rect x="303.07" y="177.4" width="0.96" height="4.3" fill="#22ab94"/><rect x="304.63" y="172.2" width="0.6" height="10.3" fill="#f23645"/><rect x="304.45" y="177.4" width="0.96" height="2.8" fill="#f23645"/><rect x="306.00" y="176.0" width="0.6" height="5.3" fill="#22ab94"/><rect x="305.82" y="177.3" width="0.96" height="2.8" fill="#22ab94"/><rect x="307.38" y="173.5" width="0.6" height="8.4" fill="#22ab94"/><rect x="307.20" y="174.1" width="0.96" height="3.2" fill="#22ab94"/><rect x="308.75" y="171.0" width="0.6" height="11.9" fill="#f23645"/><rect x="308.57" y="174.1" width="0.96" height="4.8" fill="#f23645"/><rect x="310.12" y="177.7" width="0.6" height="6.2" fill="#22ab94"/><rect x="309.94" y="178.7" width="0.96" height="0.8" fill="#22ab94"/><rect x="311.50" y="178.0" width="0.6" height="14.8" fill="#f23645"/><rect x="311.32" y="178.7" width="0.96" height="7.3" fill="#f23645"/><rect x="312.87" y="180.0" width="0.6" height="40.0" fill="#f23645"/><rect x="312.69" y="181.0" width="0.96" height="37.0" fill="#f23645"/><rect x="314.25" y="208.6" width="0.6" height="7.7" fill="#22ab94"/><rect x="314.07" y="211.6" width="0.96" height="1.2" fill="#22ab94"/><rect x="315.62" y="205.5" width="0.6" height="10.1" fill="#22ab94"/><rect x="315.44" y="206.2" width="0.96" height="5.4" fill="#22ab94"/><rect x="317.00" y="200.6" width="0.6" height="7.0" fill="#22ab94"/><rect x="316.81" y="202.2" width="0.96" height="4.0" fill="#22ab94"/><rect x="318.37" y="199.9" width="0.6" height="3.3" fill="#22ab94"/><rect x="318.19" y="200.2" width="0.96" height="2.0" fill="#22ab94"/><rect x="319.74" y="196.0" width="0.6" height="10.6" fill="#f23645"/><rect x="319.56" y="200.2" width="0.96" height="5.3" fill="#f23645"/><rect x="321.12" y="203.2" width="0.6" height="4.6" fill="#f23645"/><rect x="320.94" y="205.5" width="0.96" height="2.1" fill="#f23645"/><rect x="322.49" y="203.0" width="0.6" height="7.1" fill="#f23645"/><rect x="322.31" y="207.5" width="0.96" height="1.4" fill="#f23645"/><rect x="323.87" y="206.6" width="0.6" height="6.8" fill="#22ab94"/><rect x="323.69" y="207.2" width="0.96" height="1.7" fill="#22ab94"/><rect x="325.24" y="205.2" width="0.6" height="3.3" fill="#f23645"/><rect x="325.06" y="207.2" width="0.96" height="0.8" fill="#f23645"/><rect x="326.61" y="195.9" width="0.6" height="11.5" fill="#22ab94"/><rect x="326.43" y="201.8" width="0.96" height="5.5" fill="#22ab94"/><rect x="327.99" y="200.2" width="0.6" height="6.9" fill="#f23645"/><rect x="327.81" y="201.8" width="0.96" height="2.6" fill="#f23645"/><rect x="329.36" y="199.1" width="0.6" height="6.8" fill="#22ab94"/><rect x="329.18" y="200.9" width="0.96" height="3.5" fill="#22ab94"/><rect x="330.74" y="192.9" width="0.6" height="8.0" fill="#22ab94"/><rect x="330.56" y="195.0" width="0.96" height="6.0" fill="#22ab94"/><rect x="332.11" y="194.5" width="0.6" height="8.2" fill="#f23645"/><rect x="331.93" y="195.0" width="0.96" height="6.8" fill="#f23645"/><rect x="333.49" y="195.1" width="0.6" height="11.6" fill="#22ab94"/><rect x="333.31" y="196.0" width="0.96" height="5.7" fill="#22ab94"/><rect x="334.86" y="188.9" width="0.6" height="9.6" fill="#f23645"/><rect x="334.68" y="196.0" width="0.96" height="0.8" fill="#f23645"/><rect x="336.23" y="196.1" width="0.6" height="6.8" fill="#f23645"/><rect x="336.05" y="196.6" width="0.96" height="3.2" fill="#f23645"/><rect x="337.61" y="191.3" width="0.6" height="10.3" fill="#22ab94"/><rect x="337.43" y="197.6" width="0.96" height="2.2" fill="#22ab94"/><rect x="338.98" y="195.7" width="0.6" height="18.6" fill="#f23645"/><rect x="338.80" y="197.6" width="0.96" height="8.8" fill="#f23645"/><rect x="340.36" y="204.9" width="0.6" height="4.2" fill="#22ab94"/><rect x="340.18" y="205.7" width="0.96" height="0.8" fill="#22ab94"/><rect x="341.73" y="200.7" width="0.6" height="9.2" fill="#f23645"/><rect x="341.55" y="205.7" width="0.96" height="0.8" fill="#f23645"/><rect x="343.10" y="194.1" width="0.6" height="14.5" fill="#22ab94"/><rect x="342.92" y="204.4" width="0.96" height="1.8" fill="#22ab94"/><rect x="344.48" y="201.6" width="0.6" height="11.3" fill="#f23645"/><rect x="344.30" y="204.4" width="0.96" height="2.1" fill="#f23645"/><rect x="345.85" y="204.0" width="0.6" height="35.0" fill="#f23645"/><rect x="345.67" y="205.0" width="0.96" height="31.0" fill="#f23645"/><rect x="347.23" y="223.9" width="0.6" height="7.8" fill="#22ab94"/><rect x="347.05" y="225.8" width="0.96" height="4.0" fill="#22ab94"/><rect x="348.60" y="225.6" width="0.6" height="2.1" fill="#f23645"/><rect x="348.42" y="225.8" width="0.96" height="1.4" fill="#f23645"/><rect x="349.98" y="225.7" width="0.6" height="3.8" fill="#f23645"/><rect x="349.80" y="227.2" width="0.96" height="1.9" fill="#f23645"/><rect x="351.35" y="228.7" width="0.6" height="4.0" fill="#f23645"/><rect x="351.17" y="229.1" width="0.96" height="0.8" fill="#f23645"/><rect x="352.72" y="227.8" width="0.6" height="7.7" fill="#f23645"/><rect x="352.54" y="229.2" width="0.96" height="3.4" fill="#f23645"/><rect x="354.10" y="229.0" width="0.6" height="8.3" fill="#22ab94"/><rect x="353.92" y="230.1" width="0.96" height="2.6" fill="#22ab94"/><rect x="355.47" y="229.1" width="0.6" height="4.0" fill="#f23645"/><rect x="355.29" y="230.1" width="0.96" height="0.8" fill="#f23645"/><rect x="356.85" y="229.9" width="0.6" height="7.8" fill="#f23645"/><rect x="356.67" y="230.4" width="0.96" height="2.7" fill="#f23645"/><rect x="358.22" y="233.0" width="0.6" height="9.9" fill="#f23645"/><rect x="358.04" y="233.1" width="0.96" height="8.9" fill="#f23645"/><rect x="359.60" y="241.8" width="0.6" height="2.7" fill="#f23645"/><rect x="359.42" y="242.0" width="0.96" height="0.8" fill="#f23645"/><rect x="360.97" y="242.3" width="0.6" height="6.6" fill="#f23645"/><rect x="360.79" y="242.4" width="0.96" height="0.8" fill="#f23645"/><rect x="362.34" y="240.5" width="0.6" height="7.6" fill="#f23645"/><rect x="362.16" y="242.5" width="0.96" height="1.6" fill="#f23645"/><rect x="363.72" y="243.8" width="0.6" height="6.3" fill="#f23645"/><rect x="363.54" y="244.1" width="0.96" height="1.2" fill="#f23645"/><rect x="365.09" y="243.1" width="0.6" height="8.4" fill="#f23645"/><rect x="364.91" y="245.3" width="0.96" height="1.2" fill="#f23645"/><rect x="366.47" y="242.8" width="0.6" height="8.2" fill="#f23645"/><rect x="366.29" y="246.5" width="0.96" height="2.4" fill="#f23645"/><rect x="367.84" y="248.7" width="0.6" height="2.5" fill="#f23645"/><rect x="367.66" y="248.9" width="0.96" height="1.9" fill="#f23645"/><rect x="369.21" y="243.6" width="0.6" height="13.5" fill="#f23645"/><rect x="369.03" y="250.8" width="0.96" height="4.3" fill="#f23645"/><rect x="370.59" y="249.6" width="0.6" height="8.7" fill="#22ab94"/><rect x="370.41" y="251.0" width="0.96" height="4.1" fill="#22ab94"/><rect x="371.96" y="249.3" width="0.6" height="7.4" fill="#f23645"/><rect x="371.78" y="251.0" width="0.96" height="4.8" fill="#f23645"/><rect x="373.34" y="250.6" width="0.6" height="7.5" fill="#22ab94"/><rect x="373.16" y="255.3" width="0.96" height="0.8" fill="#22ab94"/><rect x="374.71" y="243.4" width="0.6" height="13.5" fill="#22ab94"/><rect x="374.53" y="245.5" width="0.96" height="9.7" fill="#22ab94"/><rect x="376.09" y="243.0" width="0.6" height="3.4" fill="#f23645"/><rect x="375.91" y="245.5" width="0.96" height="0.8" fill="#f23645"/><rect x="377.46" y="243.6" width="0.6" height="7.2" fill="#22ab94"/><rect x="377.28" y="245.2" width="0.96" height="0.9" fill="#22ab94"/><rect x="378.83" y="244.1" width="0.6" height="7.0" fill="#f23645"/><rect x="378.65" y="245.2" width="0.96" height="2.2" fill="#f23645"/><rect x="380.21" y="243.6" width="0.6" height="12.7" fill="#f23645"/><rect x="380.03" y="247.4" width="0.96" height="1.4" fill="#f23645"/><rect x="381.58" y="242.9" width="0.6" height="12.3" fill="#f23645"/><rect x="381.40" y="248.9" width="0.96" height="6.2" fill="#f23645"/><rect x="382.96" y="247.0" width="0.6" height="10.0" fill="#22ab94"/><rect x="382.78" y="249.9" width="0.96" height="5.1" fill="#22ab94"/><rect x="384.33" y="246.8" width="0.6" height="4.5" fill="#f23645"/><rect x="384.15" y="249.9" width="0.96" height="1.0" fill="#f23645"/><rect x="385.71" y="247.7" width="0.6" height="13.7" fill="#f23645"/><rect x="385.53" y="250.9" width="0.96" height="7.4" fill="#f23645"/><rect x="387.08" y="246.0" width="0.6" height="13.1" fill="#22ab94"/><rect x="386.90" y="251.8" width="0.96" height="6.5" fill="#22ab94"/><rect x="388.45" y="246.1" width="0.6" height="7.9" fill="#22ab94"/><rect x="388.27" y="247.4" width="0.96" height="4.4" fill="#22ab94"/><rect x="389.83" y="242.1" width="0.6" height="5.5" fill="#22ab94"/><rect x="389.65" y="243.3" width="0.96" height="4.1" fill="#22ab94"/><rect x="391.20" y="243.2" width="0.6" height="4.1" fill="#f23645"/><rect x="391.02" y="243.3" width="0.96" height="1.8" fill="#f23645"/><rect x="392.58" y="240.0" width="0.6" height="14.5" fill="#f23645"/><rect x="392.40" y="245.1" width="0.96" height="7.0" fill="#f23645"/><rect x="393.95" y="240.6" width="0.6" height="17.2" fill="#22ab94"/><rect x="393.77" y="248.1" width="0.96" height="4.0" fill="#22ab94"/><rect x="395.32" y="248.0" width="0.6" height="2.3" fill="#f23645"/><rect x="395.14" y="248.1" width="0.96" height="0.8" fill="#f23645"/><rect x="396.70" y="247.3" width="0.6" height="1.6" fill="#f23645"/><rect x="396.52" y="248.7" width="0.96" height="0.8" fill="#f23645"/><rect x="398.07" y="248.0" width="0.6" height="5.2" fill="#f23645"/><rect x="397.89" y="248.9" width="0.96" height="0.8" fill="#f23645"/><rect x="399.45" y="247.1" width="0.6" height="5.1" fill="#f23645"/><rect x="399.27" y="249.6" width="0.96" height="2.1" fill="#f23645"/><rect x="400.82" y="250.3" width="0.6" height="14.0" fill="#f23645"/><rect x="400.64" y="251.6" width="0.96" height="8.8" fill="#f23645"/><rect x="402.20" y="256.7" width="0.6" height="5.0" fill="#22ab94"/><rect x="402.02" y="259.3" width="0.96" height="1.1" fill="#22ab94"/><rect x="403.57" y="256.8" width="0.6" height="6.9" fill="#f23645"/><rect x="403.39" y="259.3" width="0.96" height="4.1" fill="#f23645"/><rect x="404.94" y="262.1" width="0.6" height="5.9" fill="#f23645"/><rect x="404.76" y="263.4" width="0.96" height="4.1" fill="#f23645"/><rect x="406.32" y="256.0" width="0.6" height="12.2" fill="#22ab94"/><rect x="406.14" y="258.3" width="0.96" height="9.2" fill="#22ab94"/><rect x="407.69" y="257.1" width="0.6" height="9.5" fill="#f23645"/><rect x="407.51" y="258.3" width="0.96" height="6.7" fill="#f23645"/><rect x="409.07" y="257.8" width="0.6" height="8.4" fill="#22ab94"/><rect x="408.89" y="261.9" width="0.96" height="3.1" fill="#22ab94"/><rect x="410.44" y="257.3" width="0.6" height="4.8" fill="#22ab94"/><rect x="410.26" y="259.9" width="0.96" height="1.9" fill="#22ab94"/><rect x="411.81" y="258.2" width="0.6" height="2.8" fill="#f23645"/><rect x="411.63" y="259.9" width="0.96" height="0.8" fill="#f23645"/><rect x="413.19" y="259.2" width="0.6" height="7.0" fill="#f23645"/><rect x="413.01" y="260.3" width="0.96" height="2.3" fill="#f23645"/><rect x="414.56" y="260.9" width="0.6" height="4.7" fill="#22ab94"/><rect x="414.38" y="261.4" width="0.96" height="1.2" fill="#22ab94"/><rect x="415.94" y="260.6" width="0.6" height="1.9" fill="#f23645"/><rect x="415.76" y="261.4" width="0.96" height="0.8" fill="#f23645"/><rect x="417.31" y="256.5" width="0.6" height="7.1" fill="#22ab94"/><rect x="417.13" y="260.5" width="0.96" height="1.0" fill="#22ab94"/><rect x="418.69" y="255.6" width="0.6" height="11.8" fill="#22ab94"/><rect x="418.51" y="258.2" width="0.96" height="2.2" fill="#22ab94"/><rect x="420.06" y="250.6" width="0.6" height="9.5" fill="#22ab94"/><rect x="419.88" y="254.2" width="0.96" height="4.0" fill="#22ab94"/><rect x="421.43" y="247.5" width="0.6" height="17.6" fill="#f23645"/><rect x="421.25" y="254.2" width="0.96" height="3.4" fill="#f23645"/><rect x="422.81" y="251.2" width="0.6" height="6.6" fill="#22ab94"/><rect x="422.63" y="252.7" width="0.96" height="4.8" fill="#22ab94"/><rect x="424.18" y="244.7" width="0.6" height="8.3" fill="#22ab94"/><rect x="424.00" y="251.2" width="0.96" height="1.6" fill="#22ab94"/><rect x="425.56" y="244.7" width="0.6" height="11.7" fill="#22ab94"/><rect x="425.38" y="247.2" width="0.96" height="3.9" fill="#22ab94"/><rect x="426.93" y="245.5" width="0.6" height="10.3" fill="#f23645"/><rect x="426.75" y="247.2" width="0.96" height="8.1" fill="#f23645"/><rect x="428.31" y="254.5" width="0.6" height="5.0" fill="#22ab94"/><rect x="428.13" y="254.9" width="0.96" height="0.8" fill="#22ab94"/><rect x="429.68" y="241.0" width="0.6" height="16.1" fill="#22ab94"/><rect x="429.50" y="244.6" width="0.96" height="10.3" fill="#22ab94"/><rect x="431.05" y="242.0" width="0.6" height="5.8" fill="#f23645"/><rect x="430.87" y="244.6" width="0.96" height="1.7" fill="#f23645"/><rect x="432.43" y="239.5" width="0.6" height="11.3" fill="#f23645"/><rect x="432.25" y="246.3" width="0.96" height="3.6" fill="#f23645"/><rect x="433.80" y="247.4" width="0.6" height="5.1" fill="#22ab94"/><rect x="433.62" y="249.6" width="0.96" height="0.8" fill="#22ab94"/><rect x="435.18" y="237.4" width="0.6" height="13.6" fill="#22ab94"/><rect x="435.00" y="237.9" width="0.96" height="11.7" fill="#22ab94"/><rect x="436.55" y="235.1" width="0.6" height="19.3" fill="#f23645"/><rect x="436.37" y="237.9" width="0.96" height="15.5" fill="#f23645"/><rect x="437.92" y="242.2" width="0.6" height="12.6" fill="#22ab94"/><rect x="437.74" y="244.8" width="0.96" height="8.6" fill="#22ab94"/><rect x="439.30" y="242.5" width="0.6" height="6.2" fill="#f23645"/><rect x="439.12" y="244.8" width="0.96" height="3.0" fill="#f23645"/><rect x="440.67" y="241.1" width="0.6" height="8.8" fill="#22ab94"/><rect x="440.49" y="241.5" width="0.96" height="6.3" fill="#22ab94"/><rect x="442.05" y="233.7" width="0.6" height="8.7" fill="#22ab94"/><rect x="441.87" y="237.0" width="0.96" height="4.5" fill="#22ab94"/><rect x="443.42" y="236.4" width="0.6" height="5.8" fill="#f23645"/><rect x="443.24" y="237.0" width="0.96" height="2.2" fill="#f23645"/><rect x="444.80" y="236.7" width="0.6" height="4.2" fill="#22ab94"/><rect x="444.62" y="237.0" width="0.96" height="2.2" fill="#22ab94"/><rect x="446.17" y="236.0" width="0.6" height="14.0" fill="#f23645"/><rect x="445.99" y="237.0" width="0.96" height="6.6" fill="#f23645"/><rect x="447.54" y="242.7" width="0.6" height="5.2" fill="#f23645"/><rect x="447.36" y="243.6" width="0.96" height="4.1" fill="#f23645"/><rect x="448.92" y="246.6" width="0.6" height="2.5" fill="#22ab94"/><rect x="448.74" y="247.4" width="0.96" height="0.8" fill="#22ab94"/><rect x="450.29" y="245.2" width="0.6" height="6.4" fill="#f23645"/><rect x="450.11" y="247.4" width="0.96" height="2.4" fill="#f23645"/><rect x="451.67" y="246.3" width="0.6" height="11.5" fill="#f23645"/><rect x="451.49" y="249.8" width="0.96" height="6.1" fill="#f23645"/><rect x="453.04" y="251.8" width="0.6" height="7.1" fill="#22ab94"/><rect x="452.86" y="253.8" width="0.96" height="2.1" fill="#22ab94"/><rect x="454.42" y="249.7" width="0.6" height="10.1" fill="#f23645"/><rect x="454.24" y="253.8" width="0.96" height="5.3" fill="#f23645"/><rect x="455.79" y="255.6" width="0.6" height="4.0" fill="#22ab94"/><rect x="455.61" y="255.7" width="0.96" height="3.4" fill="#22ab94"/><rect x="457.16" y="251.4" width="0.6" height="4.8" fill="#22ab94"/><rect x="456.98" y="253.2" width="0.96" height="2.5" fill="#22ab94"/><rect x="458.54" y="252.9" width="0.6" height="7.2" fill="#f23645"/><rect x="458.36" y="253.2" width="0.96" height="4.7" fill="#f23645"/><rect x="459.91" y="255.2" width="0.6" height="9.1" fill="#f23645"/><rect x="459.73" y="257.9" width="0.96" height="4.6" fill="#f23645"/><rect x="461.29" y="259.8" width="0.6" height="3.6" fill="#22ab94"/><rect x="461.11" y="259.9" width="0.96" height="2.7" fill="#22ab94"/><rect x="462.66" y="259.3" width="0.6" height="6.3" fill="#f23645"/><rect x="462.48" y="259.9" width="0.96" height="0.8" fill="#f23645"/><rect x="464.03" y="260.4" width="0.6" height="5.6" fill="#f23645"/><rect x="463.85" y="260.5" width="0.96" height="2.6" fill="#f23645"/><rect x="465.41" y="261.6" width="0.6" height="12.0" fill="#f23645"/><rect x="465.23" y="263.1" width="0.96" height="9.9" fill="#f23645"/><rect x="466.78" y="265.2" width="0.6" height="20.3" fill="#f23645"/><rect x="466.60" y="273.0" width="0.96" height="11.9" fill="#f23645"/><rect x="468.16" y="273.6" width="0.6" height="19.3" fill="#22ab94"/><rect x="467.98" y="276.5" width="0.96" height="8.4" fill="#22ab94"/><rect x="469.53" y="276.1" width="0.6" height="3.9" fill="#f23645"/><rect x="469.35" y="276.5" width="0.96" height="2.0" fill="#f23645"/><rect x="470.91" y="276.8" width="0.6" height="19.2" fill="#f23645"/><rect x="470.73" y="278.5" width="0.96" height="10.9" fill="#f23645"/><rect x="472.28" y="288.2" width="0.6" height="8.7" fill="#f23645"/><rect x="472.10" y="289.3" width="0.96" height="7.5" fill="#f23645"/><rect x="473.65" y="294.1" width="0.6" height="4.2" fill="#22ab94"/><rect x="473.47" y="296.0" width="0.96" height="0.8" fill="#22ab94"/><rect x="475.03" y="306.0" width="0.6" height="35.0" fill="#22ab94"/><rect x="474.85" y="308.0" width="0.96" height="14.0" fill="#22ab94"/><rect x="476.40" y="307.4" width="0.6" height="7.8" fill="#f23645"/><rect x="476.22" y="308.0" width="0.96" height="4.9" fill="#f23645"/><rect x="477.78" y="312.2" width="0.6" height="2.6" fill="#22ab94"/><rect x="477.60" y="312.3" width="0.96" height="0.8" fill="#22ab94"/><rect x="479.15" y="308.6" width="0.6" height="15.0" fill="#f23645"/><rect x="478.97" y="312.3" width="0.96" height="5.3" fill="#f23645"/><rect x="480.52" y="310.8" width="0.6" height="9.4" fill="#22ab94"/><rect x="480.34" y="316.5" width="0.96" height="1.1" fill="#22ab94"/><rect x="481.90" y="313.8" width="0.6" height="15.4" fill="#f23645"/><rect x="481.72" y="316.5" width="0.96" height="10.2" fill="#f23645"/><rect x="483.27" y="320.1" width="0.6" height="9.3" fill="#22ab94"/><rect x="483.09" y="322.3" width="0.96" height="4.5" fill="#22ab94"/><rect x="484.65" y="312.1" width="0.6" height="13.1" fill="#22ab94"/><rect x="484.47" y="317.6" width="0.96" height="4.7" fill="#22ab94"/><rect x="486.02" y="311.8" width="0.6" height="12.2" fill="#f23645"/><rect x="485.84" y="317.6" width="0.96" height="4.4" fill="#f23645"/><rect x="487.40" y="304.4" width="0.6" height="19.8" fill="#22ab94"/><rect x="487.22" y="305.1" width="0.96" height="16.8" fill="#22ab94"/><rect x="488.77" y="304.9" width="0.6" height="12.3" fill="#f23645"/><rect x="488.59" y="305.1" width="0.96" height="8.8" fill="#f23645"/><rect x="490.14" y="312.2" width="0.6" height="7.2" fill="#f23645"/><rect x="489.96" y="313.9" width="0.96" height="4.8" fill="#f23645"/><rect x="491.52" y="317.8" width="0.6" height="2.5" fill="#f23645"/><rect x="491.34" y="318.7" width="0.96" height="0.8" fill="#f23645"/><rect x="492.89" y="310.5" width="0.6" height="15.5" fill="#22ab94"/><rect x="492.71" y="316.0" width="0.96" height="3.3" fill="#22ab94"/><rect x="494.27" y="309.8" width="0.6" height="6.2" fill="#22ab94"/><rect x="494.09" y="312.1" width="0.96" height="3.9" fill="#22ab94"/><rect x="495.64" y="310.4" width="0.6" height="4.2" fill="#f23645"/><rect x="495.46" y="312.1" width="0.96" height="2.2" fill="#f23645"/><rect x="497.02" y="312.0" width="0.6" height="8.7" fill="#22ab94"/><rect x="496.84" y="314.1" width="0.96" height="0.8" fill="#22ab94"/><rect x="498.39" y="312.6" width="0.6" height="7.8" fill="#f23645"/><rect x="498.21" y="314.1" width="0.96" height="4.7" fill="#f23645"/><rect x="499.76" y="318.3" width="0.6" height="5.8" fill="#f23645"/><rect x="499.58" y="318.8" width="0.96" height="2.4" fill="#f23645"/><rect x="501.14" y="312.2" width="0.6" height="10.9" fill="#22ab94"/><rect x="500.96" y="314.4" width="0.96" height="6.9" fill="#22ab94"/><rect x="502.51" y="303.8" width="0.6" height="12.3" fill="#22ab94"/><rect x="502.33" y="307.7" width="0.96" height="6.7" fill="#22ab94"/><rect x="503.89" y="305.3" width="0.6" height="5.5" fill="#f23645"/><rect x="503.71" y="307.7" width="0.96" height="0.8" fill="#f23645"/><rect x="505.26" y="303.1" width="0.6" height="15.6" fill="#f23645"/><rect x="505.08" y="308.4" width="0.96" height="10.3" fill="#f23645"/><rect x="506.63" y="315.1" width="0.6" height="6.9" fill="#f23645"/><rect x="506.45" y="318.7" width="0.96" height="1.0" fill="#f23645"/><rect x="508.01" y="313.7" width="0.6" height="7.8" fill="#22ab94"/><rect x="507.83" y="317.5" width="0.96" height="2.1" fill="#22ab94"/><rect x="509.38" y="303.5" width="0.6" height="11.8" fill="#22ab94"/><rect x="509.20" y="303.9" width="0.96" height="9.4" fill="#22ab94"/></g>
<!-- MA -->
<mask id="mam"><rect x="0" y="0" width="1024" height="654" fill="#fff"/><rect x="46" y="288.6" width="586.8" height="18.2" fill="#000"/></mask><path d="M8.1,211.3 C11.3,215.8 22.4,232.2 27.2,238.2 C32.0,244.2 33.4,245.0 37.1,247.4 C40.8,249.8 46.0,251.0 49.3,252.8 C52.6,254.6 54.4,257.2 57.0,258.1 C59.6,259.0 62.2,258.5 65.0,258.4 C67.8,258.3 70.0,258.6 73.8,257.5 C77.5,256.4 82.9,255.2 87.5,252.0 C92.1,248.8 96.7,242.4 101.3,238.2 C105.9,233.9 110.4,229.4 115.0,226.5 C119.6,223.6 124.6,222.0 128.8,221.0 C133.0,220.0 137.0,220.3 140.0,220.6 C143.0,220.8 144.2,221.5 146.9,222.5 C149.7,223.5 153.1,224.5 156.5,226.6 C159.9,228.7 164.1,233.3 167.5,234.9 C170.9,236.5 173.8,236.2 177.2,236.3 C180.6,236.4 184.8,236.6 188.2,235.6 C191.6,234.6 194.8,232.3 197.8,230.1 C200.8,227.9 203.3,224.6 206.1,222.5 C208.9,220.4 212.1,218.8 214.4,217.7 C216.7,216.6 216.8,217.2 220.0,216.0 C223.2,214.8 229.0,211.9 233.8,210.8 C238.6,209.7 244.3,210.9 248.9,209.4 C253.5,207.9 256.9,204.7 261.3,201.8 C265.7,198.9 271.1,194.9 275.0,192.2 C278.9,189.4 281.7,186.6 284.7,185.3 C287.7,184.0 290.4,184.7 293.0,184.3 C295.6,184.0 297.5,183.8 300.0,183.2 C302.5,182.6 305.1,180.5 308.0,180.7 C310.9,180.8 313.8,182.0 317.5,184.1 C321.2,186.2 326.8,191.4 330.0,193.0 C333.2,194.6 333.8,191.9 336.8,193.7 C339.8,195.5 344.8,201.6 347.8,204.0 C350.8,206.4 352.6,206.6 354.7,208.2 C356.8,209.8 357.5,211.0 360.3,213.7 C363.1,216.3 368.1,220.6 371.3,224.1 C374.5,227.6 376.9,231.4 379.6,234.4 C382.4,237.4 384.6,239.7 387.8,242.0 C391.0,244.3 395.4,246.7 398.8,248.2 C402.2,249.7 405.4,250.2 408.3,251.0 C411.2,251.8 413.3,252.2 416.5,253.0 C419.7,253.8 423.6,255.7 427.5,256.0 C431.4,256.3 436.6,255.7 440.0,255.0 C443.4,254.3 445.4,252.5 448.2,251.7 C450.9,250.9 453.8,250.2 456.5,250.0 C459.2,249.8 462.2,249.6 464.7,250.3 C467.2,251.0 469.1,251.7 471.6,254.4 C474.2,257.1 478.2,263.8 480.0,266.8 C481.8,269.8 480.4,268.8 482.6,272.4 C484.8,276.0 489.3,282.5 493.0,288.2 C496.7,293.9 501.7,303.0 504.6,306.8 C507.5,310.6 509.3,310.2 510.2,310.9" fill="none" stroke="#2196f3" stroke-width="1" mask="url(#mam)"/>
<!-- $100 rect on top -->
<rect x="46" y="288.6" width="586.8" height="18.2" fill="#0438d5" fill-opacity="0.65"/>
<!-- head & shoulders line -->
<line x1="70.5" y1="252" x2="465.5" y2="269.3" stroke="#e8e8e8" stroke-width="1.6"/>
<circle cx="465.5" cy="269.3" r="1.2" fill="#e8e8e8"/>
<!-- ATH dashed -->
<line x1="493" y1="145.2" x2="930" y2="145.2" stroke="#ffffff" stroke-width="1.8" stroke-dasharray="7 8.6" stroke-dashoffset="5.6"/>
<!-- current price dotted -->
<line x1="7" y1="304.5" x2="973.5" y2="304.5" stroke="#22ab94" stroke-opacity="0.6" stroke-width="1" stroke-dasharray="1 1"/>
<g fill="#4caf50"><circle cx="510.2" cy="308.2" r="0.85" /><circle cx="513.5" cy="305.1" r="0.85" /><circle cx="516.7" cy="302.0" r="0.85" /><circle cx="520.0" cy="298.9" r="0.85" /><circle cx="523.2" cy="295.8" r="0.85" /><circle cx="526.5" cy="292.8" r="0.85" /><circle cx="529.7" cy="289.7" r="0.85" /><circle cx="533.0" cy="286.6" r="0.85" /><circle cx="536.2" cy="283.5" r="0.85" /><circle cx="539.5" cy="280.4" r="0.85" /><circle cx="542.7" cy="277.3" r="0.85" /><circle cx="546.0" cy="274.2" r="0.85" /><circle cx="549.2" cy="271.1" r="0.85" /><circle cx="552.5" cy="268.1" r="0.85" /><circle cx="555.7" cy="265.0" r="0.85" /><circle cx="559.0" cy="261.9" r="0.85" /><circle cx="562.2" cy="258.8" r="0.85" /><circle cx="565.5" cy="255.7" r="0.85" /><circle cx="567.9" cy="259.6" r="0.85" /><circle cx="570.3" cy="263.4" r="0.85" /><circle cx="572.7" cy="267.3" r="0.85" /><circle cx="575.0" cy="271.2" r="0.85" /><circle cx="577.4" cy="275.1" r="0.85" /><circle cx="579.8" cy="278.9" r="0.85" /><circle cx="582.2" cy="282.8" r="0.85" /><circle cx="584.6" cy="286.7" r="0.85" /><circle cx="587.9" cy="283.8" r="0.85" /><circle cx="591.1" cy="280.9" r="0.85" /><circle cx="594.4" cy="278.0" r="0.85" /><circle cx="597.7" cy="275.1" r="0.85" /><circle cx="600.9" cy="272.2" r="0.85" /><circle cx="604.2" cy="269.3" r="0.85" /><circle cx="607.5" cy="266.4" r="0.85" /><circle cx="610.7" cy="263.5" r="0.85" /><circle cx="614.0" cy="260.6" r="0.85" /><circle cx="617.2" cy="257.7" r="0.85" /><circle cx="620.5" cy="254.8" r="0.85" /><circle cx="623.8" cy="251.9" r="0.85" /><circle cx="627.0" cy="249.0" r="0.85" /><circle cx="630.3" cy="246.1" r="0.85" /><circle cx="633.6" cy="243.1" r="0.85" /><circle cx="636.8" cy="240.2" r="0.85" /><circle cx="640.1" cy="237.3" r="0.85" /><circle cx="643.4" cy="234.4" r="0.85" /><circle cx="646.6" cy="231.5" r="0.85" /><circle cx="649.9" cy="228.6" r="0.85" /><circle cx="653.1" cy="225.7" r="0.85" /><circle cx="656.4" cy="222.8" r="0.85" /><circle cx="659.7" cy="219.9" r="0.85" /><circle cx="662.9" cy="217.0" r="0.85" /><circle cx="666.2" cy="214.1" r="0.85" /><circle cx="669.5" cy="211.2" r="0.85" /><circle cx="672.7" cy="208.3" r="0.85" /><circle cx="676.0" cy="205.4" r="0.85" /><circle cx="678.5" cy="209.4" r="0.85" /><circle cx="681.0" cy="213.3" r="0.85" /><circle cx="683.5" cy="217.3" r="0.85" /><circle cx="686.0" cy="221.2" r="0.85" /><circle cx="688.5" cy="225.2" r="0.85" /><circle cx="691.0" cy="229.2" r="0.85" /><circle cx="693.5" cy="233.1" r="0.85" /><circle cx="696.0" cy="237.1" r="0.85" /><circle cx="699.2" cy="234.3" r="0.85" /><circle cx="702.5" cy="231.5" r="0.85" /><circle cx="705.7" cy="228.7" r="0.85" /><circle cx="708.9" cy="226.0" r="0.85" /><circle cx="712.1" cy="223.2" r="0.85" /><circle cx="715.4" cy="220.4" r="0.85" /><circle cx="718.6" cy="217.6" r="0.85" /><circle cx="721.8" cy="214.8" r="0.85" /><circle cx="725.1" cy="212.0" r="0.85" /><circle cx="728.3" cy="209.3" r="0.85" /><circle cx="731.5" cy="206.5" r="0.85" /><circle cx="734.8" cy="203.7" r="0.85" /><circle cx="738.0" cy="200.9" r="0.85" /><circle cx="741.2" cy="198.1" r="0.85" /><circle cx="744.4" cy="195.3" r="0.85" /><circle cx="747.7" cy="192.5" r="0.85" /><circle cx="750.9" cy="189.8" r="0.85" /><circle cx="754.1" cy="187.0" r="0.85" /><circle cx="757.4" cy="184.2" r="0.85" /><circle cx="760.6" cy="181.4" r="0.85" /><circle cx="763.8" cy="178.6" r="0.85" /><circle cx="767.1" cy="175.8" r="0.85" /><circle cx="770.3" cy="173.1" r="0.85" /><circle cx="773.5" cy="170.3" r="0.85" /><circle cx="776.7" cy="167.5" r="0.85" /><circle cx="780.0" cy="164.7" r="0.85" /><circle cx="783.2" cy="161.9" r="0.85" /><circle cx="786.4" cy="159.1" r="0.85" /><circle cx="789.7" cy="156.3" r="0.85" /><circle cx="792.9" cy="153.6" r="0.85" /><circle cx="796.1" cy="150.8" r="0.85" /><circle cx="799.3" cy="148.0" r="0.85" /><circle cx="802.6" cy="145.2" r="0.85" /><circle cx="805.8" cy="142.4" r="0.85" /><circle cx="809.0" cy="139.6" r="0.85" /><circle cx="812.3" cy="136.9" r="0.85" /><circle cx="815.5" cy="134.1" r="0.85" /><circle cx="818.7" cy="131.3" r="0.85" /><circle cx="822.0" cy="128.5" r="0.85" /><circle cx="825.2" cy="125.7" r="0.85" /><circle cx="828.4" cy="122.9" r="0.85" /><circle cx="831.6" cy="120.2" r="0.85" /><circle cx="834.9" cy="117.4" r="0.85" /><circle cx="838.1" cy="114.6" r="0.85" /><circle cx="841.3" cy="111.8" r="0.85" /><circle cx="844.6" cy="109.0" r="0.85" /><circle cx="847.8" cy="106.2" r="0.85" /><circle cx="851.0" cy="103.4" r="0.85" /><circle cx="854.2" cy="100.7" r="0.85" /><circle cx="857.5" cy="97.9" r="0.85" /><circle cx="860.7" cy="95.1" r="0.85" /><circle cx="863.9" cy="92.3" r="0.85" /><circle cx="867.2" cy="89.5" r="0.85" /><circle cx="870.4" cy="86.7" r="0.85" /><circle cx="873.6" cy="84.0" r="0.85" /><circle cx="876.9" cy="81.2" r="0.85" /><circle cx="880.1" cy="78.4" r="0.85" /><circle cx="883.3" cy="75.6" r="0.85" /><circle cx="886.5" cy="72.8" r="0.85" /><circle cx="889.8" cy="70.0" r="0.85" /><circle cx="893.0" cy="67.2" r="0.85" /><circle cx="896.2" cy="64.5" r="0.85" /><circle cx="899.5" cy="61.7" r="0.85" /><circle cx="902.7" cy="58.9" r="0.85" /><circle cx="905.9" cy="56.1" r="0.85" /><circle cx="909.2" cy="53.3" r="0.85" /><circle cx="912.4" cy="50.5" r="0.85" /><circle cx="915.6" cy="47.8" r="0.85" /><circle cx="918.8" cy="45.0" r="0.85" /><circle cx="922.1" cy="42.2" r="0.85" /></g><g fill="#f23645"><circle cx="509.5" cy="316.3" r="0.85" /><circle cx="512.3" cy="319.6" r="0.85" /><circle cx="515.0" cy="323.0" r="0.85" /><circle cx="517.8" cy="326.3" r="0.85" /><circle cx="520.6" cy="329.6" r="0.85" /><circle cx="523.3" cy="333.0" r="0.85" /><circle cx="526.1" cy="336.3" r="0.85" /><circle cx="528.8" cy="339.6" r="0.85" /><circle cx="531.6" cy="343.0" r="0.85" /><circle cx="534.4" cy="346.3" r="0.85" /><circle cx="537.1" cy="349.6" r="0.85" /><circle cx="539.9" cy="353.0" r="0.85" /><circle cx="542.7" cy="356.3" r="0.85" /><circle cx="545.4" cy="359.6" r="0.85" /><circle cx="548.2" cy="363.0" r="0.85" /><circle cx="550.9" cy="366.3" r="0.85" /><circle cx="553.7" cy="369.6" r="0.85" /><circle cx="556.5" cy="373.0" r="0.85" /><circle cx="559.2" cy="376.3" r="0.85" /><circle cx="562.0" cy="379.6" r="0.85" /><circle cx="564.8" cy="383.0" r="0.85" /><circle cx="567.5" cy="386.3" r="0.85" /><circle cx="570.3" cy="389.7" r="0.85" /><circle cx="573.1" cy="393.0" r="0.85" /><circle cx="575.8" cy="396.3" r="0.85" /><circle cx="578.6" cy="399.7" r="0.85" /><circle cx="581.3" cy="403.0" r="0.85" /><circle cx="584.1" cy="406.3" r="0.85" /><circle cx="586.9" cy="409.7" r="0.85" /><circle cx="589.6" cy="413.0" r="0.85" /><circle cx="592.4" cy="416.3" r="0.85" /><circle cx="595.2" cy="419.7" r="0.85" /><circle cx="597.9" cy="423.0" r="0.85" /><circle cx="600.7" cy="426.3" r="0.85" /><circle cx="603.4" cy="429.7" r="0.85" /><circle cx="606.2" cy="433.0" r="0.85" /><circle cx="609.0" cy="436.3" r="0.85" /><circle cx="611.7" cy="439.7" r="0.85" /></g><g fill="#4caf50"><circle cx="925.3" cy="39.4" r="0.8"/><circle cx="921.6" cy="38.3" r="0.8"/><circle cx="917.5" cy="37.9" r="0.8"/><circle cx="924.8" cy="43.6" r="0.8"/><circle cx="924.4" cy="47.7" r="0.8"/></g><g fill="#f23645"><circle cx="615" cy="443.5" r="0.8"/><circle cx="616" cy="440.1" r="0.8"/><circle cx="616.5" cy="435.8" r="0.8"/><circle cx="610.6" cy="443.2" r="0.8"/><circle cx="606.5" cy="442.6" r="0.8"/></g>
<!-- RSI lines -->
<polyline points="8.1,542.9 9.5,538.3 10.8,541.9 12.2,544.8 13.6,541.6 15.0,544.6 16.3,547.2 17.7,548.2 19.1,549.4 20.5,541.9 21.8,542.8 23.2,541.2 24.6,533.8 26.0,536.8 27.3,534.6 28.7,540.2 30.1,536.0 31.5,534.3 32.8,532.3 34.2,530.6 35.6,526.4 37.0,524.5 38.3,522.3 39.7,526.5 41.1,527.2 42.5,532.5 43.8,530.9 45.2,534.3 46.6,539.5 48.0,537.0 49.3,535.4 50.7,540.6 52.1,541.2 53.4,542.7 54.8,547.0 56.2,550.4 57.6,543.4 58.9,536.2 60.3,528.3 61.7,521.7 63.1,523.6 64.4,521.3 65.8,518.9 67.2,516.5 68.6,517.5 69.9,521.5 71.3,512.0 72.7,511.0 74.1,508.5 75.4,504.9 76.8,503.6 78.2,503.0 79.6,505.0 80.9,511.3 82.3,507.4 83.7,510.5 85.1,506.1 86.4,508.9 87.8,510.1 89.2,512.1 90.6,510.3 91.9,515.4 93.3,517.1 94.7,513.2 96.0,509.4 97.4,501.0 98.8,495.2 100.2,490.6 101.5,479.8 102.9,485.1 104.3,484.4 105.7,486.1 107.0,496.6 108.4,507.4 109.8,510.6 111.2,514.3 112.5,510.6 113.9,511.0 115.3,514.1 116.7,508.8 118.0,506.6 119.4,505.4 120.8,510.6 122.2,511.7 123.5,513.8 124.9,514.1 126.3,517.6 127.7,518.5 129.0,525.3 130.4,531.7 131.8,540.9 133.2,540.8 134.5,543.6 135.9,547.1 137.3,550.0 138.6,541.4 140.0,536.1 141.4,528.4 142.8,521.5 144.1,519.9 145.5,527.8 146.9,533.1 148.3,540.3 149.6,539.3 151.0,535.7 152.4,527.5 153.8,533.8 155.1,536.7 156.5,542.9 157.9,542.0 159.3,547.0 160.6,551.1 162.0,548.9 163.4,545.4 164.8,537.0 166.1,533.6 167.5,523.3 168.9,516.8 170.3,523.0 171.6,522.4 173.0,523.4 174.4,523.5 175.8,524.3 177.1,520.3 178.5,523.3 179.9,518.7 181.2,518.9 182.6,514.8 184.0,508.5 185.4,507.2 186.7,509.2 188.1,505.6 189.5,503.7 190.9,503.5 192.2,501.0 193.6,499.2 195.0,498.6 196.4,497.0 197.7,497.7 199.1,489.3 200.5,485.9 201.9,479.0 203.2,492.3 204.6,503.2 206.0,503.4 207.4,505.3 208.7,506.7 210.1,507.5 211.5,513.8 212.9,521.2 214.2,533.7 215.6,540.1 217.0,536.6 218.4,530.6 219.7,530.5 221.1,526.5 222.5,521.9 223.8,518.4 225.2,513.3 226.6,515.2 228.0,510.9 229.3,512.5 230.7,504.6 232.1,501.2 233.5,507.1 234.8,508.8 236.2,513.0 237.6,515.3 239.0,513.5 240.3,516.0 241.7,513.7 243.1,513.6 244.5,508.5 245.8,507.8 247.2,507.7 248.6,514.0 250.0,512.8 251.3,512.4 252.7,509.7 254.1,513.7 255.5,512.9 256.8,519.9 258.2,518.4 259.6,514.1 261.0,511.0 262.3,517.5 263.7,520.4 265.1,518.5 266.4,517.0 267.8,512.9 269.2,513.2 270.6,505.7 271.9,498.1 273.3,491.1 274.7,494.1 276.1,500.6 277.4,505.0 278.8,499.6 280.2,496.1 281.6,497.3 282.9,502.4 284.3,515.1 285.7,519.1 287.1,529.8 288.4,531.7 289.8,539.3 291.2,546.7 292.6,541.0 293.9,539.9 295.3,534.7 296.7,528.7 298.1,526.0 299.4,517.3 300.8,508.7 302.2,516.8 303.6,515.7 304.9,517.6 306.3,515.2 307.7,520.0 309.0,526.8 310.4,536.6 311.8,539.2 313.2,547.3 314.5,539.6 315.9,535.9 317.3,530.7 318.7,530.1 320.0,535.2 321.4,540.2 322.8,544.4 324.2,541.9 325.5,539.4 326.9,537.0 328.3,536.6 329.7,535.3 331.0,533.7 332.4,530.3 333.8,530.3 335.2,527.6 336.5,527.2 337.9,534.0 339.3,535.0 340.7,535.5 342.0,536.1 343.4,539.6 344.8,547.7 346.2,557.6 347.5,551.7 348.9,547.5 350.3,547.1 351.7,543.9 353.0,541.4 354.4,539.7 355.8,544.1 357.1,543.2 358.5,549.6 359.9,549.2 361.3,555.3 362.6,557.5 364.0,558.2 365.4,557.1 366.8,552.8 368.1,552.4 369.5,549.5 370.9,545.6 372.3,541.9 373.6,539.0 375.0,536.9 376.4,534.9 377.8,538.5 379.1,547.7 380.5,547.2 381.9,550.5 383.3,539.4 384.6,531.5 386.0,526.0 387.4,531.1 388.8,533.0 390.1,539.9 391.5,533.2 392.9,533.5 394.3,526.7 395.6,533.3 397.0,536.3 398.4,538.6 399.7,541.8 401.1,543.7 402.5,545.9 403.9,544.7 405.2,549.3 406.6,545.4 408.0,549.1 409.4,546.9 410.7,544.3 412.1,541.6 413.5,540.3 414.9,543.0 416.2,541.2 417.6,536.3 419.0,536.7 420.4,527.9 421.7,523.8 423.1,522.8 424.5,518.5 425.9,515.6 427.2,513.3 428.6,514.9 430.0,504.7 431.4,502.4 432.7,505.8 434.1,512.7 435.5,516.2 436.9,516.3 438.2,509.5 439.6,510.6 441.0,506.1 442.3,503.2 443.7,495.7 445.1,502.4 446.5,509.2 447.8,522.1 449.2,529.3 450.6,536.9 452.0,538.5 453.3,541.1 454.7,539.4 456.1,537.2 457.5,536.8 458.8,537.9 460.2,535.7 461.6,536.0 463.0,541.4 464.3,543.9 465.7,549.5 467.1,554.2 468.5,560.0 469.8,562.1 471.2,564.7 472.6,567.4 474.0,569.2 475.3,570.3 476.7,562.2 478.1,557.1 479.5,562.0 480.8,562.2 482.2,558.6 483.6,562.3 484.9,553.9 486.3,549.1 487.7,547.9 489.1,546.7 490.4,543.0 491.8,543.4 493.2,545.3 494.6,545.5 495.9,542.6 497.3,545.1 498.7,547.3 500.1,550.4 501.4,544.5 502.8,532.9 504.2,530.4 505.6,536.7 506.9,539.2 508.3,530.8 509.7,526.5" fill="none" stroke="#7e57c2" stroke-width="1" stroke-linejoin="round"/>
<polyline points="8.1,550.4 9.5,549.8 10.8,549.0 12.2,547.9 13.6,547.7 15.0,547.2 16.3,545.8 17.7,546.1 19.1,545.5 20.5,544.7 21.8,544.1 23.2,543.0 24.6,541.9 26.0,541.1 27.3,540.4 28.7,540.1 30.1,539.4 31.5,539.0 32.8,537.5 34.2,538.4 35.6,537.7 37.0,536.3 38.3,535.9 39.7,535.2 41.1,534.5 42.5,534.0 43.8,534.2 45.2,534.1 46.6,534.6 48.0,534.6 49.3,534.9 50.7,534.6 52.1,535.1 53.4,535.4 54.8,536.9 56.2,537.7 57.6,539.6 58.9,541.2 60.3,541.0 61.7,538.8 63.1,536.9 64.4,535.1 65.8,533.6 67.2,532.0 68.6,529.6 69.9,527.5 71.3,526.0 72.7,524.1 74.1,521.9 75.4,520.1 76.8,518.4 78.2,516.8 79.6,514.3 80.9,512.5 82.3,512.1 83.7,510.9 85.1,510.8 86.4,510.3 87.8,509.6 89.2,508.6 90.6,508.7 91.9,509.1 93.3,509.8 94.7,509.8 96.0,510.9 97.4,510.4 98.8,510.0 100.2,508.7 101.5,507.7 102.9,505.8 104.3,504.8 105.7,503.0 107.0,502.4 108.4,502.6 109.8,501.6 111.2,501.7 112.5,501.1 113.9,501.6 115.3,501.5 116.7,501.9 118.0,502.5 119.4,504.1 120.8,505.4 122.2,506.5 123.5,507.4 124.9,507.6 126.3,509.0 127.7,511.4 129.0,512.8 130.4,515.9 131.8,518.4 133.2,520.3 134.5,522.8 135.9,524.6 137.3,526.5 138.6,529.2 140.0,531.5 141.4,533.8 142.8,535.5 144.1,535.5 145.5,535.8 146.9,536.2 148.3,536.2 149.6,537.1 151.0,536.5 152.4,536.2 153.8,535.8 155.1,535.5 156.5,536.0 157.9,535.4 159.3,535.2 160.6,536.2 162.0,537.1 163.4,537.9 164.8,539.2 166.1,537.7 167.5,537.1 168.9,535.8 170.3,534.2 171.6,533.5 173.0,532.3 174.4,531.4 175.8,529.9 177.1,529.0 178.5,527.2 179.9,526.3 181.2,525.8 182.6,524.7 184.0,523.2 185.4,521.9 186.7,521.3 188.1,519.0 189.5,517.6 190.9,516.3 192.2,514.4 193.6,512.0 195.0,509.9 196.4,509.2 197.7,506.9 199.1,504.7 200.5,503.2 201.9,501.7 203.2,498.8 204.6,500.1 206.0,500.0 207.4,499.0 208.7,500.0 210.1,499.1 211.5,501.4 212.9,503.7 214.2,507.0 215.6,508.6 217.0,511.4 218.4,514.4 219.7,516.4 221.1,519.0 222.5,521.4 223.8,522.4 225.2,522.9 226.6,524.4 228.0,525.3 229.3,526.0 230.7,526.1 232.1,524.2 233.5,523.5 234.8,521.6 236.2,520.9 237.6,518.7 239.0,518.2 240.3,516.9 241.7,516.1 243.1,516.1 244.5,516.3 245.8,516.2 247.2,515.8 248.6,516.4 250.0,516.5 251.3,516.4 252.7,516.0 254.1,516.1 255.5,516.3 256.8,515.8 258.2,515.5 259.6,516.0 261.0,515.8 262.3,516.1 263.7,516.4 265.1,516.2 266.4,516.5 267.8,516.5 269.2,514.8 270.6,513.9 271.9,512.9 273.3,511.8 274.7,510.4 276.1,509.7 277.4,508.1 278.8,507.2 280.2,506.1 281.6,504.7 282.9,503.6 284.3,501.7 285.7,502.0 287.1,504.8 288.4,507.7 289.8,510.6 291.2,512.2 292.6,515.3 293.9,517.4 295.3,519.5 296.7,520.8 298.1,522.3 299.4,523.4 300.8,524.9 302.2,525.3 303.6,527.1 304.9,527.1 306.3,526.1 307.7,525.6 309.0,524.6 310.4,523.8 311.8,524.4 313.2,524.9 314.5,526.7 315.9,526.0 317.3,527.3 318.7,527.4 320.0,528.9 321.4,530.5 322.8,531.4 324.2,533.5 325.5,534.7 326.9,535.5 328.3,537.7 329.7,538.3 331.0,537.8 332.4,537.7 333.8,536.6 335.2,536.4 336.5,536.0 337.9,535.0 339.3,535.2 340.7,533.9 342.0,533.4 343.4,534.7 344.8,535.1 346.2,536.3 347.5,536.7 348.9,538.2 350.3,538.7 351.7,540.2 353.0,540.4 354.4,542.1 355.8,542.9 357.1,544.0 358.5,545.0 359.9,546.1 361.3,546.6 362.6,547.2 364.0,549.1 365.4,549.4 366.8,549.9 368.1,550.5 369.5,550.0 370.9,550.7 372.3,551.1 373.6,551.3 375.0,551.0 376.4,549.8 377.8,548.5 379.1,547.4 380.5,547.0 381.9,545.5 383.3,544.9 384.6,543.8 386.0,541.9 387.4,541.2 388.8,540.5 390.1,539.6 391.5,538.7 392.9,538.0 394.3,537.8 395.6,537.0 397.0,536.8 398.4,536.9 399.7,536.2 401.1,536.4 402.5,535.2 403.9,536.4 405.2,536.8 406.6,536.8 408.0,538.5 409.4,538.8 410.7,539.1 412.1,539.2 413.5,539.8 414.9,541.0 416.2,540.6 417.6,540.1 419.0,541.1 420.4,539.3 421.7,538.0 423.1,536.2 424.5,534.4 425.9,532.7 427.2,531.7 428.6,529.2 430.0,528.7 431.4,526.2 432.7,524.3 434.1,523.3 435.5,521.6 436.9,519.4 438.2,518.5 439.6,516.1 441.0,515.0 442.3,514.3 443.7,512.3 445.1,510.5 446.5,509.7 447.8,508.7 449.2,510.4 450.6,511.7 452.0,514.2 453.3,516.4 454.7,518.5 456.1,520.8 457.5,522.0 458.8,524.1 460.2,526.9 461.6,529.9 463.0,531.8 464.3,535.2 465.7,536.4 467.1,540.2 468.5,542.3 469.8,545.3 471.2,548.0 472.6,548.9 474.0,550.6 475.3,552.1 476.7,553.5 478.1,554.3 479.5,555.6 480.8,556.6 482.2,559.5 483.6,559.5 484.9,558.6 486.3,557.4 487.7,557.4 489.1,556.1 490.4,555.9 491.8,554.9 493.2,553.8 494.6,553.2 495.9,551.7 497.3,551.2 498.7,550.1 500.1,548.7 501.4,548.1 502.8,546.9 504.2,546.4 505.6,543.6 506.9,543.4 508.3,542.3 509.7,542.3" fill="none" stroke="#e3c02a" stroke-width="1.3" stroke-linejoin="round"/>
<!-- labels on rects -->
<g fill="#e6e8ee" font-size="10.2">
<text x="314.4" y="153" text-anchor="middle">$300 Resistance</text>
<text x="454.6" y="154.3" text-anchor="middle">$293 ATH</text>
<text x="573.2" y="201.6" text-anchor="middle">$200 Resistance</text>
<text x="687" y="251" text-anchor="middle" font-size="10.6">$130-$145 Support</text>
<text x="576" y="303.8" text-anchor="middle">$100 Support</text>
<text x="805" y="46" text-anchor="middle">$600 Target</text>
<text x="654.5" y="445.8" text-anchor="middle">$30 Bear Case</text>
</g>
<text x="291" y="277.3" font-size="10" fill="#cfd1d6" text-anchor="middle">Bearish Head and Shoulders</text>
<!-- legend -->
<g font-size="8.6" fill="#c8cad0">
<text x="12.7" y="32.7">SOL / TetherUS · 1D · Binance</text>
<text x="12.7" y="44.6">Vol · SOL</text>
<text x="12.7" y="56.5">MA (30, close)</text>
<text x="12.7" y="480.7">RSI (14, close)</text>
</g>
<g font-size="8.6">
<g fill="#c8cad0"><text x="135.2" y="32.7">O</text><text x="168.4" y="32.7">H</text><text x="202.9" y="32.7">L</text><text x="235.2" y="32.7">C</text></g>
<g fill="#22ab94"><text x="141.6" y="32.7">83.61</text><text x="174.8" y="32.7">90.00</text><text x="207.4" y="32.7">82.37</text><text x="241.6" y="32.7">89.70</text><text x="269" y="32.7">+6.10</text><text x="293.3" y="32.7">(+7.30%)</text></g>
<text x="54.5" y="44.6" fill="#22ab94">3.65M</text>
<text x="75.5" y="56.5" fill="#2196f3">86.01</text>
<text x="75" y="480.7" fill="#7e57c2">50.33</text>
<text x="103" y="480.7" fill="#e3c02a">39.14</text>
</g>
<!-- price axis -->
<g font-size="9.4" fill="#cfd2d9"><text x="981" y="53.1">600.00</text><text x="981" y="83.1">480.00</text><text x="981" y="105.4">405.00</text><text x="981" y="127.3">345.00</text><text x="981" y="152.3">285.00</text><text x="981" y="183.9">225.00</text><text x="981" y="210.0">185.00</text><text x="981" y="233.6">155.00</text><text x="981" y="262.3">125.00</text><text x="981" y="285.9">105.00</text><text x="981" y="334.0">73.00</text><text x="981" y="359.1">60.50</text><text x="981" y="383.2">50.50</text><text x="981" y="406.2">42.50</text><text x="981" y="430.2">35.50</text><text x="981" y="452.6">30.00</text><text x="981" y="482.8">80.00</text><text x="981" y="513.1">60.00</text><text x="981" y="573.8">20.00</text></g>
<defs><clipPath id="tc"><rect x="0" y="0" width="975" height="654"/></clipPath></defs><g font-size="9" fill="#c3c6ce" clip-path="url(#tc)"><text x="48.2" y="605.3" text-anchor="middle" >Apr</text><text x="89.4" y="605.3" text-anchor="middle" >May</text><text x="132.0" y="605.3" text-anchor="middle" >Jun</text><text x="173.3" y="605.3" text-anchor="middle" >Jul</text><text x="215.9" y="605.3" text-anchor="middle" >Aug</text><text x="258.5" y="605.3" text-anchor="middle" >Sep</text><text x="299.7" y="605.3" text-anchor="middle" >Oct</text><text x="342.3" y="605.3" text-anchor="middle" >Nov</text><text x="383.5" y="605.3" text-anchor="middle" >Dec</text><text x="426.1" y="605.3" text-anchor="middle" font-weight="bold" fill="#c8cad0">2026</text><text x="468.7" y="605.3" text-anchor="middle" >Feb</text><text x="507.2" y="605.3" text-anchor="middle" >Mar</text><text x="549.8" y="605.3" text-anchor="middle" >Apr</text><text x="591.0" y="605.3" text-anchor="middle" >May</text><text x="633.6" y="605.3" text-anchor="middle" >Jun</text><text x="674.8" y="605.3" text-anchor="middle" >Jul</text><text x="717.4" y="605.3" text-anchor="middle" >Aug</text><text x="760.0" y="605.3" text-anchor="middle" >Sep</text><text x="801.3" y="605.3" text-anchor="middle" >Oct</text><text x="843.9" y="605.3" text-anchor="middle" >Nov</text><text x="885.1" y="605.3" text-anchor="middle" >Dec</text><text x="927.7" y="605.3" text-anchor="middle" font-weight="bold" fill="#c8cad0">2027</text><text x="970.3" y="605.3" text-anchor="middle" >Feb</text></g>
<!-- USDT box -->
<rect x="977.6" y="21.7" width="37" height="19.2" rx="3" fill="#111214" stroke="#2c2c2e"/>
<text x="996.1" y="34.6" font-size="9" fill="#e8e8e8" text-anchor="middle">USDT</text>
<!-- price tags -->
<rect x="975.1" y="298.1" width="33.4" height="12.1" fill="#089981"/>
<text x="981" y="307.6" font-size="9.2" fill="#ffffff">89.70</text>
<rect x="975.1" y="310.2" width="33.4" height="11.9" fill="#2196f3"/>
<text x="981" y="319.6" font-size="9.2" fill="#ffffff">86.01</text>
<rect x="975.1" y="427.3" width="37" height="12.6" fill="#26a69a"/>
<text x="981" y="437" font-size="9.2" fill="#ffffff">3.65M</text>
<rect x="975.1" y="519" width="33.4" height="12.1" fill="#7e57c2"/>
<text x="981" y="528.6" font-size="9.2" fill="#ffffff">50.33</text>
<rect x="975.1" y="536" width="33.4" height="12.2" fill="#fdd835"/>
<text x="981" y="545.6" font-size="9.2" fill="#131722">39.14</text>
<!-- footer logo -->
<g fill="#e0e0e0">
<path d="M8 627 h10.5 v11 h-4.5 v-6.5 h-6 z"/>
<circle cx="21.5" cy="629.3" r="2.2"/>
<path d="M24.5 627 h5.2 l-5 11 h-5.2 z"/>
</g>
<text x="34.3" y="637.8" font-size="14.4" font-weight="bold" fill="#e0e0e0" letter-spacing="0.2">TradingView</text>
</svg>
</body></html>
